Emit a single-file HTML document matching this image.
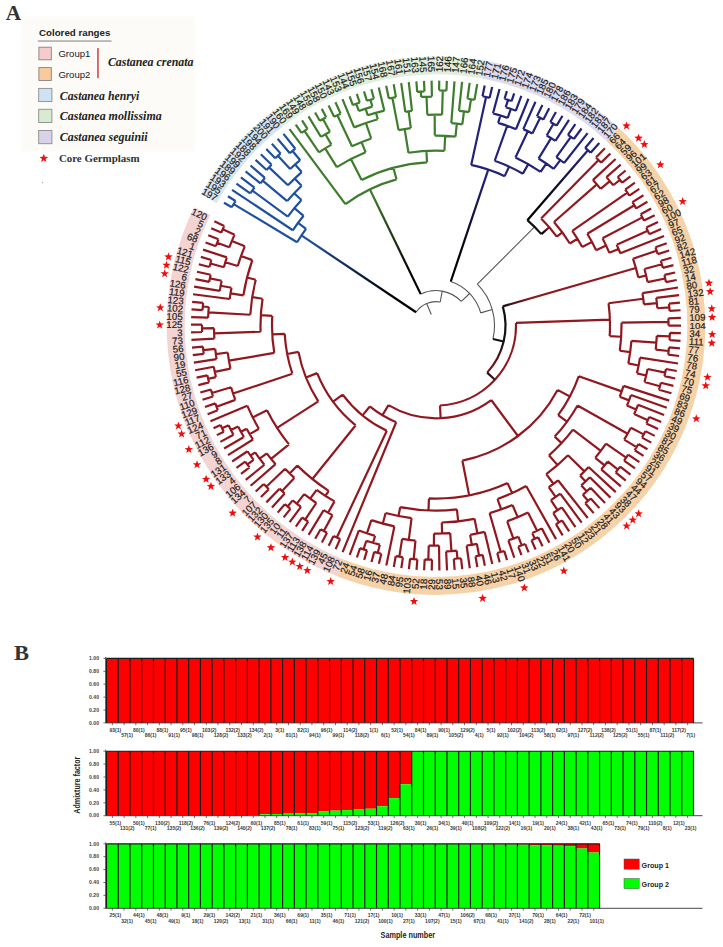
<!DOCTYPE html>
<html><head><meta charset="utf-8"><style>
body{margin:0;background:#fff;}
svg{display:block;}
.lab{font-family:"Liberation Sans",sans-serif;font-size:9.7px;fill:#1e1e1e;stroke:#1e1e1e;stroke-width:0.2px;}
.yl{font-family:"Liberation Sans",sans-serif;font-size:5.1px;font-weight:bold;fill:#444;}
.xl{font-family:"Liberation Sans",sans-serif;font-size:5px;font-weight:bold;fill:#3a3a3a;}
.sans{font-family:"Liberation Sans",sans-serif;}
.serif{font-family:"Liberation Serif",serif;}
</style></head>
<body>
<svg width="723" height="947" viewBox="0 0 723 947">
<defs><linearGradient id="g1" gradientUnits="userSpaceOnUse" x1="416.06" y1="312.24" x2="301.41" y2="235.43"><stop offset="0.2" stop-color="#000"/><stop offset="0.95" stop-color="#1f50a0"/></linearGradient><linearGradient id="g2" gradientUnits="userSpaceOnUse" x1="420.71" y1="294.12" x2="369.8" y2="189.33"><stop offset="0.2" stop-color="#000"/><stop offset="0.95" stop-color="#3d7d2c"/></linearGradient><linearGradient id="g3" gradientUnits="userSpaceOnUse" x1="450.77" y1="281.51" x2="488.25" y2="169.62"><stop offset="0.2" stop-color="#000"/><stop offset="0.95" stop-color="#23237a"/></linearGradient><linearGradient id="g4" gradientUnits="userSpaceOnUse" x1="527.35" y1="220.17" x2="587.93" y2="150.27"><stop offset="0.2" stop-color="#000"/><stop offset="0.95" stop-color="#23237a"/></linearGradient><linearGradient id="g5" gradientUnits="userSpaceOnUse" x1="541.34" y1="234.15" x2="549.27" y2="227.26"><stop offset="0.2" stop-color="#000"/><stop offset="0.95" stop-color="#921820"/></linearGradient><linearGradient id="g6" gradientUnits="userSpaceOnUse" x1="502.78" y1="306.35" x2="487.17" y2="372.63"><stop offset="0.45" stop-color="#111"/><stop offset="1.0" stop-color="#8a1419"/></linearGradient><linearGradient id="g7" gradientUnits="userSpaceOnUse" x1="502.78" y1="306.35" x2="531.61" y2="298.04"><stop offset="0.0" stop-color="#151515"/><stop offset="1.0" stop-color="#921820"/></linearGradient><linearGradient id="g8" gradientUnits="userSpaceOnUse" x1="487.17" y1="372.63" x2="509.26" y2="392.93"><stop offset="0.0" stop-color="#151515"/><stop offset="1.0" stop-color="#921820"/></linearGradient></defs>
<rect width="723" height="947" fill="#fff"/>

<rect x="21.5" y="16.5" width="173.5" height="135" fill="#fcfbf8"/>
<text x="5.8" y="20.4" class="serif" font-weight="bold" font-size="22" fill="#333" textLength="15.4" lengthAdjust="spacingAndGlyphs">A</text>
<text x="39" y="35.7" class="sans" font-weight="bold" font-size="9.8" fill="#222" textLength="71.4" lengthAdjust="spacingAndGlyphs">Colored ranges</text>
<rect x="37.8" y="40.4" width="73.7" height="1.3" fill="#9a9a9a"/>
<rect x="38.9" y="47.2" width="12.4" height="12.6" fill="#f4cccc" stroke="#8c7f7f" stroke-width="0.9"/>
<rect x="38.9" y="67.6" width="12.4" height="12.9" fill="#f9cb9c" stroke="#8c7f7f" stroke-width="0.9"/>
<rect x="38.7" y="88.4" width="13.2" height="13.2" fill="#cfe2f3" stroke="#8c8c8c" stroke-width="0.9"/>
<rect x="38.7" y="109.3" width="13.2" height="13.2" fill="#d9ead3" stroke="#8c8c8c" stroke-width="0.9"/>
<rect x="38.7" y="130.5" width="13.2" height="13.2" fill="#d9d2e9" stroke="#8c8c8c" stroke-width="0.9"/>
<text x="58.4" y="57.4" class="sans" font-size="9.6" fill="#222" textLength="32" lengthAdjust="spacingAndGlyphs">Group1</text>
<text x="58.4" y="78.1" class="sans" font-size="9.6" fill="#222" textLength="32" lengthAdjust="spacingAndGlyphs">Group2</text>
<rect x="97.2" y="48.1" width="1.5" height="30" fill="#d83a40"/>
<text x="107.9" y="66.4" class="serif" font-style="italic" font-weight="bold" font-size="12.3" fill="#222" textLength="85.6" lengthAdjust="spacingAndGlyphs">Castanea crenata</text>
<text x="59.8" y="99.6" class="serif" font-style="italic" font-weight="bold" font-size="12.3" fill="#222" textLength="79.6" lengthAdjust="spacingAndGlyphs">Castanea henryi</text>
<text x="59.8" y="120.3" class="serif" font-style="italic" font-weight="bold" font-size="12.3" fill="#222" textLength="101.9" lengthAdjust="spacingAndGlyphs">Castanea mollissima</text>
<text x="59.8" y="141.2" class="serif" font-style="italic" font-weight="bold" font-size="12.3" fill="#222" textLength="87.9" lengthAdjust="spacingAndGlyphs">Castanea seguinii</text>
<path d="M43.8 153.8L44.91 156.77L48.08 156.91L45.6 158.88L46.45 161.94L43.8 160.19L41.15 161.94L42 158.88L39.52 156.91L42.69 156.77Z" fill="#ee1111"/>
<text x="58.9" y="162" class="serif" font-weight="bold" font-size="10.9" fill="#333" textLength="80.7" lengthAdjust="spacingAndGlyphs">Core Germplasm</text>
<circle cx="42.5" cy="182.6" r="0.6" fill="#999"/>

<g><path d="M194.15 207.16A269.3 269.3 0 0 0 337.24 576.14L343.84 559.39A251.3 251.3 0 0 1 210.31 215.07Z" fill="#f4d3d3"/><path d="M337.24 576.14A269.3 269.3 0 0 0 618.61 127.67L606.4 140.9A251.3 251.3 0 0 1 343.84 559.39Z" fill="#f6d2a9"/><path d="M618.61 127.67A269.3 269.3 0 0 0 485.41 60.87L482.11 78.57A251.3 251.3 0 0 1 606.4 140.9Z" fill="#dcdbef"/><path d="M485.41 60.87A269.3 269.3 0 0 0 271.65 112.26L282.64 126.52A251.3 251.3 0 0 1 482.11 78.57Z" fill="#e1eedb"/><path d="M271.65 112.26A269.3 269.3 0 0 0 200.9 194.25L216.62 203.03A251.3 251.3 0 0 1 282.64 126.52Z" fill="#d6e5f2"/></g>
<g><path d="M440.25 301.98A24 24 0 0 0 416.06 312.24M440.25 301.98L442.2 291.15M461.31 301.43A35 35 0 0 0 420.71 294.12M461.31 301.43L469.63 293.48M480.72 312.87A46.5 46.5 0 0 0 450.77 281.51M480.72 312.87L492.27 309.59M492.94 339.01A58.5 58.5 0 0 0 477.35 284.21M477.35 284.21L534.59 226.91M431.31 314.55L426.63 303.51" fill="none" stroke="#555" stroke-width="1.1"/>
<path d="M306.05 228.86A162 162 0 0 0 297.11 242.22M297.11 242.22L233.66 204.13M235.58 201A236 236 0 0 0 231.79 207.3M235.58 201L227.93 196.25M231.79 207.3L224 202.79M306.05 228.86L298.03 222.89M303.62 215.79A172 172 0 0 0 292.83 230.28M292.83 230.28L232.06 189.83M303.62 215.79L294.38 208.13M301.48 200.06A184 184 0 0 0 287.77 216.59M287.77 216.59L252.32 190.52M254.45 187.68A228 228 0 0 0 250.24 193.4M254.45 187.68L240.91 177.4M250.24 193.4L236.39 183.54M301.48 200.06L294.17 193.24M301.59 185.71A194 194 0 0 0 287.17 201.16M287.17 201.16L262.62 180.63M264.9 177.95A226 226 0 0 0 260.38 183.35M264.9 177.95L250.51 165.54M260.38 183.35L245.62 171.39M301.59 185.71L294.66 178.5M301.69 172.06A204 204 0 0 0 287.95 185.26M287.95 185.26L269.08 167.37M271.56 164.79A230 230 0 0 0 266.63 169.99M271.56 164.79L260.84 154.3M266.63 169.99L255.59 159.84M301.69 172.06L295.1 164.53M300.19 160.22A214 214 0 0 0 290.15 169M290.15 169L277.89 155.82M280.55 153.38A232 232 0 0 0 275.26 158.31M280.55 153.38L271.84 143.73M275.26 158.31L266.26 148.93M300.19 160.22L292.57 150.95M295.31 148.73A226 226 0 0 0 289.87 153.2M295.31 148.73L283.48 133.86M289.87 153.2L277.58 138.71" fill="none" stroke="#1f50a0" stroke-width="2.2"/>
<path d="M396.51 179.34A151.5 151.5 0 0 0 345.42 204.16M345.42 204.16L289.52 129.21M396.51 179.34L393.39 167.75M427.03 162.35A163.5 163.5 0 0 0 361.6 180.01M361.6 180.01L350.9 159.08M365.63 152.35A187 187 0 0 0 336.81 167.07M336.81 167.07L325.15 148.42M331.42 144.65A209 209 0 0 0 319.01 152.41M331.42 144.65L325.42 134.26M329.92 131.73A221 221 0 0 0 320.98 136.89M329.92 131.73L322.98 119.04M326.21 117.31A235.46 235.46 0 0 0 319.77 120.83M326.21 117.31L321.76 108.87M319.77 120.83L315.06 112.53M320.98 136.89L308.49 116.4M319.01 152.41L304.45 130.87M307.5 128.84A235 235 0 0 0 301.44 132.94M307.5 128.84L302.03 120.47M301.44 132.94L295.71 124.74M365.63 152.35L361.49 142.16M371.23 138.49A198 198 0 0 0 351.95 146.32M371.23 138.49L365.85 122.95M377.79 119.2A214.45 214.45 0 0 0 354.14 127.39M377.79 119.2L375.99 112.82M384.32 110.64A221.08 221.08 0 0 0 367.76 115.31M384.32 110.64L378.73 87.39M367.76 115.31L365.62 108.72M372.41 106.64A228.01 228.01 0 0 0 358.9 111.02M372.41 106.64L370.41 99.76M373.93 98.76A235.18 235.18 0 0 0 366.9 100.81M373.93 98.76L371.34 89.29M366.9 100.81L364.01 91.42M358.9 111.02L356.3 103.78M359.76 102.57A235.7 235.7 0 0 0 352.85 105.05M359.76 102.57L356.75 93.77M352.85 105.05L349.57 96.35M354.14 127.39L342.48 99.15M351.95 146.32L337.37 115.22M340.66 113.71A232.35 232.35 0 0 0 334.11 116.78M340.66 113.71L335.47 102.18M334.11 116.78L328.56 105.41M427.03 162.35L426.4 150.86M444.44 150.8A175 175 0 0 0 408.45 152.78M408.45 152.78L404.67 129.08M410.81 128.2A199 199 0 0 0 398.57 130.15M398.57 130.15L392.36 97.74M395.92 97.09A232 232 0 0 0 388.82 98.45M395.92 97.09L393.67 84.28M388.82 98.45L386.17 85.72M410.81 128.2L408.66 111.34M412 110.94A216 216 0 0 0 405.32 111.79M405.32 111.79L401.2 83.08M412 110.94L408.77 82.12M444.44 150.8L445.17 135.82M455.49 136.6A190 190 0 0 0 434.81 135.6M455.49 136.6L456.82 123.67M462.32 124.31A203 203 0 0 0 451.31 123.18M451.31 123.18L454.48 81.3M462.32 124.31L464 111.42M469 112.14A216 216 0 0 0 458.99 110.83M458.99 110.83L462.08 81.99M469 112.14L470.99 99.29M474.51 99.86A229 229 0 0 0 467.46 98.77M467.46 98.77L469.65 82.92M474.51 99.86L477.2 84.09M434.81 135.6L434.68 114.6M442.07 114.69A211 211 0 0 0 427.29 114.78M442.07 114.69L442.77 90.46M446.43 90.59A235.24 235.24 0 0 0 439.11 90.38M446.43 90.59L446.87 80.84M439.11 90.38L439.24 80.62M427.29 114.78L426.54 96.69M431.89 96.53A229.11 229.11 0 0 0 421.2 96.97M431.89 96.53L431.61 80.64M421.2 96.97L420.85 91.56M424.5 91.36A234.53 234.53 0 0 0 417.21 91.83M424.5 91.36L423.98 80.89M417.21 91.83L416.37 81.39" fill="none" stroke="#3d7d2c" stroke-width="2.2"/>
<path d="M504.69 176.13A164.5 164.5 0 0 0 471.2 164.91M471.2 164.91L486.08 97.02M489.63 97.83A234 234 0 0 0 482.51 96.27M489.63 97.83L492.15 87.12M482.51 96.27L484.7 85.49M504.69 176.13L509.07 166.59M522.85 173.67A175 175 0 0 0 494.72 160.75M494.72 160.75L507.14 125.89M516 129.28A212 212 0 0 0 498.13 122.91M516 129.28L528.46 98.72M498.13 122.91L500.41 115.48M507.73 117.86A219.77 219.77 0 0 0 493.01 113.35M507.73 117.86L510.83 108.88M515.87 110.69A229.27 229.27 0 0 0 505.74 107.2M515.87 110.69L521.35 95.95M505.74 107.2L508.08 99.9M511.58 101.05A236.93 236.93 0 0 0 504.55 98.8M511.58 101.05L514.16 93.4M504.55 98.8L506.89 91.08M493.01 113.35L499.55 88.99M522.85 173.67L528.31 164.12M540.59 171.79A186 186 0 0 0 515.47 157.43M515.47 157.43L527.86 131.21M532.38 133.41A215 215 0 0 0 523.3 129.12M532.38 133.41L540.17 117.86M543.4 119.51A232.39 232.39 0 0 0 536.93 116.27M543.4 119.51L549.22 108.33M536.93 116.27L542.4 104.91M523.3 129.12L535.48 101.7M540.59 171.79L546.22 163.52M553.66 168.85A196 196 0 0 0 538.53 158.55M538.53 158.55L551.08 138.1M555.43 140.84A220 220 0 0 0 546.67 135.46M555.43 140.84L569 119.84M546.67 135.46L553.48 123.77M556.6 125.62A233.53 233.53 0 0 0 550.32 121.97M556.6 125.62L562.53 115.8M550.32 121.97L555.93 111.96M553.66 168.85L560.27 160.05M564.1 163A207 207 0 0 0 556.37 157.19M556.37 157.19L570.91 136.86M573.83 138.98A232 232 0 0 0 567.95 134.78M573.83 138.98L581.55 128.52M567.95 134.78L575.34 124.08M564.1 163L587.62 133.15M590.64 152.65A232 232 0 0 0 585.18 147.92M590.64 152.65L599.3 142.96M585.18 147.92L593.54 137.96" fill="none" stroke="#23237a" stroke-width="2.2"/>
<path d="M541.34 234.15A139.5 139.5 0 0 0 527.35 220.17" fill="none" stroke="#111" stroke-width="2.2"/>
<path d="M556.73 236.58A150 150 0 0 0 541.09 218.57M541.09 218.57L598.55 160.06M601.1 162.61A232 232 0 0 0 595.95 157.55M601.1 162.61L610.36 153.48M595.95 157.55L604.91 148.14M556.73 236.58L562.36 232.42M569.83 243.51A157 157 0 0 0 553.98 222.01M553.98 222.01L596.81 184.4M600.6 188.84A214 214 0 0 0 592.9 180.07M600.6 188.84L609.85 181.15M613.18 185.25A226.03 226.03 0 0 0 606.43 177.13M613.18 185.25L619.98 179.86M622.23 182.74A234.71 234.71 0 0 0 617.69 177.01M622.23 182.74L630.39 176.48M617.69 177.01L625.65 170.5M606.43 177.13L620.73 164.67M592.9 180.07L615.63 158.99M569.83 243.51L577.5 238.8M582.25 247.07A166 166 0 0 0 572.29 230.83M572.29 230.83L627.29 192.57M629.34 195.57A233 233 0 0 0 625.2 189.61M629.34 195.57L639.3 188.87M625.2 189.61L634.94 182.61M582.25 247.07L591.94 241.86M596.12 250.17A177 177 0 0 0 587.33 233.79M587.33 233.79L634.35 205.26M636.2 208.36A232 232 0 0 0 632.45 202.18M636.2 208.36L647.42 201.79M632.45 202.18L643.46 195.27M596.12 250.17L606.07 245.48M609.35 252.84A188 188 0 0 0 602.49 238.28M602.49 238.28L642.34 217.37M644 220.6A233 233 0 0 0 640.63 214.17M644 220.6L654.71 215.19M640.63 214.17L651.17 208.44M609.35 252.84L618.57 248.97M620.31 253.25A198 198 0 0 0 616.73 244.72M616.73 244.72L647.76 230.84M649.21 234.15A232 232 0 0 0 646.26 227.55M649.21 234.15L661.16 229.02M646.26 227.55L658.04 222.06M620.31 253.25L664.06 236.08M638.34 277.39A208 208 0 0 0 632.96 258.72M632.96 258.72L656.63 250.69M657.77 254.13A233 233 0 0 0 655.44 247.26M657.77 254.13L669.19 250.45M655.44 247.26L666.74 243.23M638.34 277.39L646.12 275.54M647.58 282.11A216 216 0 0 0 644.46 269.02M644.46 269.02L661.83 264.3M662.76 267.83A234 234 0 0 0 660.85 260.79M662.76 267.83L673.42 265.11M660.85 260.79L671.42 257.75M647.58 282.11L665.21 278.48M665.91 282.06A234 234 0 0 0 664.45 274.92M665.91 282.06L676.72 280.01M664.45 274.92L675.18 272.53M440 405.5A80 80 0 0 0 515.95 322.85M515.95 322.85L609.9 319.62M609.69 336.04A174 174 0 0 0 608.56 303.25M608.56 303.25L643.27 298.76M643.92 304.42A209 209 0 0 0 642.46 293.12M642.46 293.12L678.02 287.53M643.92 304.42L656.86 303.1M657.32 308.26A222 222 0 0 0 656.27 297.95M656.27 297.95L679.09 295.08M657.32 308.26L669.29 307.33M669.54 310.96A234 234 0 0 0 668.97 303.7M669.54 310.96L680.52 310.27M668.97 303.7L679.92 302.67M609.69 336.04L621.17 336.73M619.79 350.74A185.5 185.5 0 0 0 621.48 322.65M621.48 322.65L668.47 321.91M668.5 325.53A232.5 232.5 0 0 0 668.39 318.29M668.5 325.53L681 325.53M668.39 318.29L680.88 317.9M619.79 350.74L630.19 352.17M628.31 363.45A196 196 0 0 0 631.41 340.79M631.41 340.79L656.34 342.72M655.7 349.58A221 221 0 0 0 656.76 335.85M656.76 335.85L669.75 336.46M669.55 340.1A234 234 0 0 0 669.89 332.82M669.55 340.1L680.53 340.78M669.89 332.82L680.88 333.15M655.7 349.58L668.62 350.99M668.2 354.61A234 234 0 0 0 668.99 347.36M668.2 354.61L679.11 355.97M668.99 347.36L679.94 348.38M628.31 363.45L638.61 365.48M636.91 373.34A206.5 206.5 0 0 0 640.01 357.57M640.01 357.57L678.05 363.53M636.91 373.34L646.15 375.53M644.49 382.05A216 216 0 0 0 647.6 368.97M647.6 368.97L665.24 372.58M664.48 376.14A234 234 0 0 0 665.94 369M664.48 376.14L675.22 378.52M665.94 369L676.75 371.04M644.49 382.05L659.94 386.24M658.96 389.72A232 232 0 0 0 660.85 382.74M658.96 389.72L671.46 393.31M660.85 382.74L673.45 385.94M440 405.5L440.63 418.18M388.45 405.18A92.7 92.7 0 0 0 491.25 400.03M388.45 405.18L382.4 415.31M369.8 406.46A104.5 104.5 0 0 0 396.17 422.21M369.8 406.46L362.51 415.35M342.71 394.54A116 116 0 0 0 386.82 430.66M342.71 394.54L333.06 401.68M317.15 373.11A128 128 0 0 0 355.7 425.28M317.15 373.11L306 377.57M298.48 351.86A140 140 0 0 0 318.28 401.37M298.48 351.86L287.19 354.02M284.72 333.8A151.5 151.5 0 0 0 292.35 373.72M284.72 333.8L272.24 334.47M272.29 315.89A164 164 0 0 0 274.3 352.94M272.29 315.89L260.81 315.21M262.57 298.74A175.5 175.5 0 0 0 260.61 331.77M262.57 298.74L252.19 297.13M255.74 279.75A186 186 0 0 0 250.32 314.76M255.74 279.75L247.02 277.53M252.33 260.11A195 195 0 0 0 243.36 295.38M252.33 260.11L241.02 256.08M244.79 246.31A207 207 0 0 0 237.76 266.03M244.79 246.31L231.86 240.94M234.59 234.63A221 221 0 0 0 229.32 247.34M234.59 234.63L222.74 229.28M224.27 225.97A234 234 0 0 0 221.27 232.61M224.27 225.97L214.32 221.28M221.27 232.61L211.18 228.24M229.32 247.34L217.16 242.74M218.48 239.34A234 234 0 0 0 215.9 246.16M218.48 239.34L208.25 235.29M215.9 246.16L205.55 242.42M237.76 266.03L225.31 262.29M226.84 257.39A220 220 0 0 0 223.88 267.23M226.84 257.39L203.07 249.64M223.88 267.23L210.39 263.52M211.38 260.01A234 234 0 0 0 209.45 267.04M211.38 260.01L200.82 256.93M209.45 267.04L198.8 264.29M243.36 295.38L230.51 293.36M231.47 287.77A208 208 0 0 0 229.71 298.97M231.47 287.77L220.65 285.77M221.64 280.75A219 219 0 0 0 219.78 290.81M221.64 280.75L209.9 278.3M210.66 274.78A231 231 0 0 0 209.19 281.82M210.66 274.78L197 271.7M209.19 281.82L195.44 279.17M219.78 290.81L194.11 286.68M229.71 298.97L193.02 294.24M250.32 314.76L208.39 312.32M208.76 307A228 228 0 0 0 208.14 317.64M208.76 307L202.78 306.51M203.11 302.89A234 234 0 0 0 202.51 310.15M203.11 302.89L192.16 301.82M202.51 310.15L191.53 309.42M208.14 317.64L191.15 317.04M260.61 331.77L214.14 333.4M214.02 328.22A222 222 0 0 0 214.38 338.58M214.02 328.22L202.02 328.36M202 324.71A234 234 0 0 0 202.09 332M202 324.71L191 324.67M202.09 332L191.09 332.3M214.38 338.58L191.42 339.93M274.3 352.94L228.94 360.61M227.73 352.53A210 210 0 0 0 230.46 368.65M227.73 352.53L215.83 354.07M215.23 348.92A222 222 0 0 0 216.56 359.2M215.23 348.92L203.29 350.18M202.94 346.55A234 234 0 0 0 203.71 353.8M202.94 346.55L191.98 347.53M203.71 353.8L192.79 355.12M216.56 359.2L193.82 362.68M230.46 368.65L214.8 371.93M213.78 366.75A226 226 0 0 0 215.94 377.08M213.78 366.75L195.09 370.21M215.94 377.08L208.15 378.9M207.35 375.35A234 234 0 0 0 209.01 382.44M207.35 375.35L196.6 377.69M209.01 382.44L198.34 385.12M292.35 373.72L233.08 393.57M231.06 387.22A214 214 0 0 0 235.3 399.86M231.06 387.22L211.91 392.98M210.89 389.48A234 234 0 0 0 212.99 396.46M210.89 389.48L200.31 392.49M212.99 396.46L202.5 399.79M235.3 399.86L216.54 406.8M215.3 403.37A234 234 0 0 0 217.83 410.21M215.3 403.37L204.93 407.03M217.83 410.21L207.58 414.19M318.28 401.37L277.08 427.9M267.01 410.24A189 189 0 0 0 288.98 444.36M267.01 410.24L252.71 417.41M247.27 405.64A205 205 0 0 0 258.88 428.82M247.27 405.64L210.45 421.26M258.88 428.82L249.73 434.15M246.64 428.66A215.59 215.59 0 0 0 252.98 439.54M246.64 428.66L240.93 431.77M238.11 426.41A222.09 222.09 0 0 0 243.9 437.05M238.11 426.41L230.95 430.06M228.57 425.24A230.12 230.12 0 0 0 233.45 434.82M228.57 425.24L222.14 428.33M220.57 424.99A237.26 237.26 0 0 0 223.76 431.65M220.57 424.99L213.53 428.23M223.76 431.65L216.84 435.11M233.45 434.82L220.35 441.88M243.9 437.05L224.08 448.54M252.98 439.54L228.01 455.08M288.98 444.36L271.08 458.82M266.77 453.29A212 212 0 0 0 275.58 464.2M266.77 453.29L259.63 458.67M255.08 452.41A220.94 220.94 0 0 0 264.4 464.77M255.08 452.41L250.49 455.62M247.51 451.25A226.53 226.53 0 0 0 253.58 459.92M247.51 451.25L232.14 461.5M253.58 459.92L247.34 464.51M245.2 461.56A234.28 234.28 0 0 0 249.53 467.43M245.2 461.56L236.47 467.78M249.53 467.43L241 473.92M264.4 464.77L245.71 479.92M275.58 464.2L250.61 485.77M355.7 425.28L312.41 479.01M297.4 465.6A197 197 0 0 0 328.7 490.82M297.4 465.6L289.66 473.42M285.13 468.79A208 208 0 0 0 294.34 477.9M285.13 468.79L266.27 486.68M263.78 484.02A234 234 0 0 0 268.8 489.31M263.78 484.02L255.69 491.47M268.8 489.31L260.94 497M294.34 477.9L282.08 491.08M279.52 488.66A226 226 0 0 0 284.67 493.46M279.52 488.66L266.36 502.37M284.67 493.46L271.95 507.57M328.7 490.82L325.43 495.85M316.64 489.8A203 203 0 0 0 334.53 501.42M316.64 489.8L310.18 498.7M304.19 494.19A214 214 0 0 0 316.32 503M304.19 494.19L296.8 503.64M292.68 500.34A226 226 0 0 0 300.99 506.84M292.68 500.34L287.6 506.53M284.8 504.19A234 234 0 0 0 290.44 508.82M284.8 504.19L277.7 512.59M290.44 508.82L283.6 517.43M300.99 506.84L289.64 522.08M316.32 503L305.13 519.58M302.13 517.52A234 234 0 0 0 308.17 521.6M302.13 517.52L295.83 526.54M308.17 521.6L302.16 530.81M334.53 501.42L328.03 512.68M323.69 510.11A216 216 0 0 0 332.43 515.15M323.69 510.11L308.61 534.88M332.43 515.15L323.8 530.95M320.62 529.17A234 234 0 0 0 327.01 532.67M320.62 529.17L315.19 538.74M327.01 532.67L321.89 542.4M386.82 430.66L336.8 537.53M333.51 535.96A234 234 0 0 0 340.11 539.05M333.51 535.96L328.7 545.85M340.11 539.05L335.61 549.09M396.17 422.21L342.61 552.1M491.25 400.03L517.96 436.01M462.36 460.55A137.5 137.5 0 0 0 557.54 389.9M462.36 460.55L469.17 495.39M428.97 498.46A173 173 0 0 0 507.57 483.1M428.97 498.46L428.48 510.45M400.25 507.11A185 185 0 0 0 456.88 509.42M400.25 507.11L398.51 515.94M385.64 512.95A194 194 0 0 0 411.56 518.05M385.64 512.95L382.79 523.57M371.32 520.13A205 205 0 0 0 394.43 526.34M371.32 520.13L366.94 533.31M358.91 530.47A218.89 218.89 0 0 0 375.08 535.84M358.91 530.47L349.71 554.9M375.08 535.84L373.06 542.81M366.33 540.74A226.14 226.14 0 0 0 379.85 544.66M366.33 540.74L363.55 549.31M360.08 548.15A235.15 235.15 0 0 0 367.04 550.41M360.08 548.15L356.9 557.48M367.04 550.41L364.15 559.83M379.85 544.66L377.76 552.83M374.23 551.9A234.58 234.58 0 0 0 381.31 553.71M374.23 551.9L371.48 561.95M381.31 553.71L378.87 563.85M394.43 526.34L386.32 565.51M411.56 518.05L408.79 539.88M402.13 538.93A216 216 0 0 0 415.47 540.62M402.13 538.93L399.29 556.8M395.69 556.2A234.1 234.1 0 0 0 402.89 557.34M395.69 556.2L393.82 566.94M402.89 557.34L401.35 568.14M415.47 540.62L413.71 559.1M410.08 558.73A234.56 234.56 0 0 0 417.35 559.42M410.08 558.73L408.92 569.1M417.35 559.42L416.52 569.82M456.88 509.42L458.23 521.34M441.79 522.51A197 197 0 0 0 474.52 518.8M441.79 522.51L442.12 533.51M434.02 533.59A208 208 0 0 0 450.2 533.11M434.02 533.59L433.9 545.59M428.77 545.48A220 220 0 0 0 439.04 545.58M428.77 545.48L428.31 559.47M424.67 559.33A234 234 0 0 0 431.95 559.56M424.67 559.33L424.13 570.31M431.95 559.56L431.76 570.56M439.04 545.58L439.39 570.58M450.2 533.11L451.43 551.07M446.16 551.37A226 226 0 0 0 456.69 550.65M446.16 551.37L447.02 570.35M456.69 550.65L457.43 558.62M453.8 558.92A234 234 0 0 0 461.05 558.26M453.8 558.92L454.63 569.89M461.05 558.26L462.23 569.19M474.52 518.8L477.46 533.51M470.15 534.83A212 212 0 0 0 484.71 531.93M470.15 534.83L471.76 544.7M466.63 545.48A222 222 0 0 0 476.86 543.81M466.63 545.48L469.8 568.26M476.86 543.81L479.07 555.6M475.49 556.24A234 234 0 0 0 482.65 554.9M475.49 556.24L477.34 567.09M482.65 554.9L484.84 565.68M484.71 531.93L492.3 564.04M507.57 483.1L512.12 493.12M497.51 499.01A184 184 0 0 0 526.17 485.99M497.51 499.01L501.19 509.38M489.62 513.08A195 195 0 0 0 512.5 504.97M489.62 513.08L500.74 551.96M497.21 552.94A235.44 235.44 0 0 0 504.26 550.93M497.21 552.94L499.69 562.18M504.26 550.93L507.03 560.08M512.5 504.97L517.7 517.16M507.15 521.33A208.26 208.26 0 0 0 528.02 512.43M507.15 521.33L513.42 538.58M508.42 540.33A226.61 226.61 0 0 0 518.37 536.71M508.42 540.33L514.3 557.75M518.37 536.71L521.72 545.3M518.29 546.61A235.83 235.83 0 0 0 525.13 543.94M518.29 546.61L521.49 555.2M525.13 543.94L528.6 552.43M528.02 512.43L537.06 530.79M532.24 533.1A228.73 228.73 0 0 0 541.83 528.38M532.24 533.1L534.85 538.72M531.52 540.23A234.92 234.92 0 0 0 538.16 537.15M531.52 540.23L535.62 549.43M538.16 537.15L542.54 546.22M541.83 528.38L549.36 542.8M526.17 485.99L556.06 539.16M557.54 389.9L569.92 396.44M558.16 415.2A151.5 151.5 0 0 0 578.81 376.17M578.81 376.17L621.7 391.36M619.7 396.75A197 197 0 0 0 623.54 385.91M623.54 385.91L669.24 400.61M619.7 396.75L629.03 400.37M626.92 405.6A207 207 0 0 0 630.99 395.08M630.99 395.08L666.79 407.83M626.92 405.6L636.14 409.46M634.13 414.12A217 217 0 0 0 638.04 404.77M638.04 404.77L664.11 414.98M634.13 414.12L647.82 420.23M646.32 423.52A232 232 0 0 0 649.27 416.92M646.32 423.52L658.11 429.01M649.27 416.92L661.22 422.04M558.16 415.2L567.03 421.71M554.67 436.61A162.5 162.5 0 0 0 577.53 405.44M577.53 405.44L627.62 433.69M624.16 439.6A220 220 0 0 0 630.89 427.67M624.16 439.6L636.59 447.14M634.67 450.24A234.54 234.54 0 0 0 638.46 444M634.67 450.24L643.54 455.81M638.46 444L647.49 449.28M630.89 427.67L643.7 434.38M641.98 437.6A234.46 234.46 0 0 0 645.37 431.13M641.98 437.6L651.24 442.63M645.37 431.13L654.78 435.87M554.67 436.61L561.61 443.1M548.97 455.3A172 172 0 0 0 572.94 429.67M572.94 429.67L600.81 450.85M595.29 457.79A207 207 0 0 0 606.02 443.68M606.02 443.68L626.14 457.65M624.06 460.6A231.5 231.5 0 0 0 628.17 454.68M624.06 460.6L635.03 468.47M628.17 454.68L639.38 462.2M595.29 457.79L604.53 465.45M601.22 469.35A219 219 0 0 0 607.75 461.48M607.75 461.48L617.94 469.55M615.68 472.36A232 232 0 0 0 620.16 466.69M615.68 472.36L625.75 480.58M620.16 466.69L630.48 474.6M601.22 469.35L620.83 486.42M548.97 455.3L557.51 465.1M546.29 474.13A185 185 0 0 0 567.99 455.23M567.99 455.23L584.4 471.35M580.08 475.62A208 208 0 0 0 588.59 466.95M588.59 466.95L615.73 492.1M580.08 475.62L585.62 481.39M581.32 485.41A216 216 0 0 0 589.81 477.25M589.81 477.25L610.46 497.61M581.32 485.41L586.7 491.32M582.79 494.8A224 224 0 0 0 590.53 487.76M590.53 487.76L605.02 502.96M582.79 494.8L588.03 500.84M585.29 503.19A232 232 0 0 0 590.74 498.45M585.29 503.19L593.65 513.14M590.74 498.45L599.42 508.14M546.29 474.13L553.44 483.77M548.77 487.13A197 197 0 0 0 558.01 480.27M558.01 480.27L587.74 517.96M548.77 487.13L555.64 496.97M550.93 500.16A209 209 0 0 0 560.27 493.64M560.27 493.64L581.67 522.59M550.93 500.16L557.53 510.19M553.18 512.98A221 221 0 0 0 561.8 507.3M561.8 507.3L575.47 527.03M553.18 512.98L559.01 522.3M555.94 524.19A232 232 0 0 0 562.06 520.36M555.94 524.19L562.66 535.32M562.06 520.36L569.13 531.28" fill="none" stroke="#921820" stroke-width="2.2"/>
<path d="M416.06 312.24L301.41 235.43" fill="none" stroke="url(#g1)" stroke-width="2.2"/>
<path d="M420.71 294.12L369.8 189.33" fill="none" stroke="url(#g2)" stroke-width="2.2"/>
<path d="M450.77 281.51L488.25 169.62" fill="none" stroke="url(#g3)" stroke-width="2.2"/>
<path d="M527.35 220.17L587.93 150.27" fill="none" stroke="url(#g4)" stroke-width="2.2"/>
<path d="M541.34 234.15L549.27 227.26" fill="none" stroke="url(#g5)" stroke-width="2.2"/>
<path d="M492.94 339.01L503.65 341.53" fill="none" stroke="#111" stroke-width="2.2"/>
<path d="M487.17 372.63A69.5 69.5 0 0 0 502.78 306.35" fill="none" stroke="url(#g6)" stroke-width="2.2"/>
<path d="M502.78 306.35L635.86 268" fill="none" stroke="url(#g7)" stroke-width="2.2"/>
<path d="M487.17 372.63L494.9 379.73" fill="none" stroke="url(#g8)" stroke-width="2.2"/></g>
<g class="lab"><text x="206.63" y="217.66" transform="rotate(25.2 206.63 217.66)" text-anchor="end" dy="0.36em">120</text>
<text x="203.38" y="224.86" transform="rotate(23.42 203.38 224.86)" text-anchor="end" dy="0.36em">5</text>
<text x="200.35" y="232.15" transform="rotate(21.63 200.35 232.15)" text-anchor="end" dy="0.36em">2</text>
<text x="197.56" y="239.54" transform="rotate(19.85 197.56 239.54)" text-anchor="end" dy="0.36em">68</text>
<text x="194.99" y="247" transform="rotate(18.06 194.99 247)" text-anchor="end" dy="0.36em">1</text>
<text x="192.66" y="254.55" transform="rotate(16.28 192.66 254.55)" text-anchor="end" dy="0.36em">121</text>
<text x="190.57" y="262.16" transform="rotate(14.49 190.57 262.16)" text-anchor="end" dy="0.36em">115</text>
<text x="188.71" y="269.83" transform="rotate(12.71 188.71 269.83)" text-anchor="end" dy="0.36em">122</text>
<text x="187.09" y="277.56" transform="rotate(10.92 187.09 277.56)" text-anchor="end" dy="0.36em">6</text>
<text x="185.72" y="285.33" transform="rotate(9.14 185.72 285.33)" text-anchor="end" dy="0.36em">126</text>
<text x="184.59" y="293.15" transform="rotate(7.35 184.59 293.15)" text-anchor="end" dy="0.36em">119</text>
<text x="183.7" y="300.99" transform="rotate(5.57 183.7 300.99)" text-anchor="end" dy="0.36em">123</text>
<text x="183.05" y="308.86" transform="rotate(3.79 183.05 308.86)" text-anchor="end" dy="0.36em">102</text>
<text x="182.65" y="316.75" transform="rotate(2 182.65 316.75)" text-anchor="end" dy="0.36em">105</text>
<text x="182.5" y="324.64" transform="rotate(0.22 182.5 324.64)" text-anchor="end" dy="0.36em">125</text>
<text x="182.59" y="332.53" transform="rotate(-1.57 182.59 332.53)" text-anchor="end" dy="0.36em">3</text>
<text x="182.93" y="340.42" transform="rotate(-3.35 182.93 340.42)" text-anchor="end" dy="0.36em">73</text>
<text x="183.52" y="348.3" transform="rotate(-5.14 183.52 348.3)" text-anchor="end" dy="0.36em">56</text>
<text x="184.35" y="356.15" transform="rotate(-6.92 184.35 356.15)" text-anchor="end" dy="0.36em">90</text>
<text x="185.42" y="363.97" transform="rotate(-8.71 185.42 363.97)" text-anchor="end" dy="0.36em">19</text>
<text x="186.74" y="371.75" transform="rotate(-10.49 186.74 371.75)" text-anchor="end" dy="0.36em">55</text>
<text x="188.29" y="379.49" transform="rotate(-12.27 188.29 379.49)" text-anchor="end" dy="0.36em">116</text>
<text x="190.09" y="387.18" transform="rotate(-14.06 190.09 387.18)" text-anchor="end" dy="0.36em">128</text>
<text x="192.13" y="394.81" transform="rotate(-15.84 192.13 394.81)" text-anchor="end" dy="0.36em">27</text>
<text x="194.4" y="402.37" transform="rotate(-17.63 194.4 402.37)" text-anchor="end" dy="0.36em">110</text>
<text x="196.91" y="409.86" transform="rotate(-19.41 196.91 409.86)" text-anchor="end" dy="0.36em">129</text>
<text x="199.65" y="417.26" transform="rotate(-21.2 199.65 417.26)" text-anchor="end" dy="0.36em">117</text>
<text x="202.62" y="424.57" transform="rotate(-22.98 202.62 424.57)" text-anchor="end" dy="0.36em">124</text>
<text x="205.82" y="431.79" transform="rotate(-24.77 205.82 431.79)" text-anchor="end" dy="0.36em">71</text>
<text x="209.23" y="438.91" transform="rotate(-26.55 209.23 438.91)" text-anchor="end" dy="0.36em">112</text>
<text x="212.87" y="445.92" transform="rotate(-28.34 212.87 445.92)" text-anchor="end" dy="0.36em">136</text>
<text x="216.73" y="452.81" transform="rotate(-30.12 216.73 452.81)" text-anchor="end" dy="0.36em">9</text>
<text x="220.8" y="459.57" transform="rotate(-31.9 220.8 459.57)" text-anchor="end" dy="0.36em">8</text>
<text x="225.07" y="466.21" transform="rotate(-33.69 225.07 466.21)" text-anchor="end" dy="0.36em">131</text>
<text x="229.55" y="472.71" transform="rotate(-35.47 229.55 472.71)" text-anchor="end" dy="0.36em">133</text>
<text x="234.23" y="479.07" transform="rotate(-37.26 234.23 479.07)" text-anchor="end" dy="0.36em">4</text>
<text x="239.11" y="485.28" transform="rotate(-39.04 239.11 485.28)" text-anchor="end" dy="0.36em">106</text>
<text x="244.18" y="491.33" transform="rotate(-40.83 244.18 491.33)" text-anchor="end" dy="0.36em">134</text>
<text x="249.43" y="497.22" transform="rotate(-42.61 249.43 497.22)" text-anchor="end" dy="0.36em">7</text>
<text x="254.87" y="502.95" transform="rotate(-44.4 254.87 502.95)" text-anchor="end" dy="0.36em">107</text>
<text x="260.48" y="508.5" transform="rotate(-46.18 260.48 508.5)" text-anchor="end" dy="0.36em">132</text>
<text x="266.26" y="513.88" transform="rotate(-47.96 266.26 513.88)" text-anchor="end" dy="0.36em">130</text>
<text x="272.2" y="519.08" transform="rotate(-49.75 272.2 519.08)" text-anchor="end" dy="0.36em">135</text>
<text x="278.31" y="524.08" transform="rotate(-51.53 278.31 524.08)" text-anchor="end" dy="0.36em">10</text>
<text x="284.57" y="528.9" transform="rotate(-53.32 284.57 528.9)" text-anchor="end" dy="0.36em">11</text>
<text x="290.97" y="533.51" transform="rotate(-55.1 290.97 533.51)" text-anchor="end" dy="0.36em">137</text>
<text x="297.51" y="537.93" transform="rotate(-56.89 297.51 537.93)" text-anchor="end" dy="0.36em">113</text>
<text x="304.19" y="542.14" transform="rotate(-58.67 304.19 542.14)" text-anchor="end" dy="0.36em">138</text>
<text x="311" y="546.14" transform="rotate(-60.46 311 546.14)" text-anchor="end" dy="0.36em">114</text>
<text x="317.93" y="549.92" transform="rotate(-62.24 317.93 549.92)" text-anchor="end" dy="0.36em">139</text>
<text x="324.97" y="553.49" transform="rotate(-64.03 324.97 553.49)" text-anchor="end" dy="0.36em">45</text>
<text x="332.12" y="556.84" transform="rotate(-65.81 332.12 556.84)" text-anchor="end" dy="0.36em">108</text>
<text x="339.37" y="559.96" transform="rotate(-67.59 339.37 559.96)" text-anchor="end" dy="0.36em">72</text>
<text x="346.72" y="562.86" transform="rotate(-69.38 346.72 562.86)" text-anchor="end" dy="0.36em">24</text>
<text x="354.15" y="565.52" transform="rotate(-71.16 354.15 565.52)" text-anchor="end" dy="0.36em">54</text>
<text x="361.66" y="567.96" transform="rotate(-72.95 361.66 567.96)" text-anchor="end" dy="0.36em">58</text>
<text x="369.24" y="570.15" transform="rotate(-74.73 369.24 570.15)" text-anchor="end" dy="0.36em">16</text>
<text x="376.89" y="572.11" transform="rotate(-76.52 376.89 572.11)" text-anchor="end" dy="0.36em">37</text>
<text x="384.6" y="573.83" transform="rotate(-78.3 384.6 573.83)" text-anchor="end" dy="0.36em">48</text>
<text x="392.35" y="575.31" transform="rotate(-80.09 392.35 575.31)" text-anchor="end" dy="0.36em">84</text>
<text x="400.15" y="576.55" transform="rotate(-81.87 400.15 576.55)" text-anchor="end" dy="0.36em">95</text>
<text x="407.98" y="577.55" transform="rotate(-83.65 407.98 577.55)" text-anchor="end" dy="0.36em">103</text>
<text x="415.84" y="578.3" transform="rotate(-85.44 415.84 578.3)" text-anchor="end" dy="0.36em">52</text>
<text x="423.72" y="578.8" transform="rotate(-87.22 423.72 578.8)" text-anchor="end" dy="0.36em">18</text>
<text x="431.61" y="579.06" transform="rotate(-89.01 431.61 579.06)" text-anchor="end" dy="0.36em">29</text>
<text x="439.51" y="579.08" transform="rotate(-270.79 439.51 579.08)" text-anchor="start" dy="0.36em">53</text>
<text x="447.4" y="578.84" transform="rotate(-272.58 447.4 578.84)" text-anchor="start" dy="0.36em">89</text>
<text x="455.28" y="578.37" transform="rotate(-274.36 455.28 578.37)" text-anchor="start" dy="0.36em">15</text>
<text x="463.14" y="577.64" transform="rotate(-276.15 463.14 577.64)" text-anchor="start" dy="0.36em">35</text>
<text x="470.98" y="576.68" transform="rotate(-277.93 470.98 576.68)" text-anchor="start" dy="0.36em">88</text>
<text x="478.78" y="575.46" transform="rotate(-279.72 478.78 575.46)" text-anchor="start" dy="0.36em">40</text>
<text x="486.54" y="574.01" transform="rotate(-281.5 486.54 574.01)" text-anchor="start" dy="0.36em">46</text>
<text x="494.25" y="572.32" transform="rotate(-283.28 494.25 572.32)" text-anchor="start" dy="0.36em">13</text>
<text x="501.9" y="570.38" transform="rotate(-285.07 501.9 570.38)" text-anchor="start" dy="0.36em">42</text>
<text x="509.49" y="568.21" transform="rotate(-286.85 509.49 568.21)" text-anchor="start" dy="0.36em">17</text>
<text x="517.01" y="565.81" transform="rotate(-288.64 517.01 565.81)" text-anchor="start" dy="0.36em">140</text>
<text x="524.45" y="563.17" transform="rotate(-290.42 524.45 563.17)" text-anchor="start" dy="0.36em">31</text>
<text x="531.81" y="560.3" transform="rotate(-292.21 531.81 560.3)" text-anchor="start" dy="0.36em">33</text>
<text x="539.07" y="557.2" transform="rotate(-293.99 539.07 557.2)" text-anchor="start" dy="0.36em">22</text>
<text x="546.23" y="553.88" transform="rotate(-295.78 546.23 553.88)" text-anchor="start" dy="0.36em">51</text>
<text x="553.29" y="550.33" transform="rotate(-297.56 553.29 550.33)" text-anchor="start" dy="0.36em">26</text>
<text x="560.23" y="546.57" transform="rotate(-299.34 560.23 546.57)" text-anchor="start" dy="0.36em">141</text>
<text x="567.05" y="542.6" transform="rotate(-301.13 567.05 542.6)" text-anchor="start" dy="0.36em">20</text>
<text x="573.74" y="538.41" transform="rotate(-302.91 573.74 538.41)" text-anchor="start" dy="0.36em">50</text>
<text x="580.31" y="534.02" transform="rotate(-304.7 580.31 534.02)" text-anchor="start" dy="0.36em">12</text>
<text x="586.73" y="529.42" transform="rotate(-306.48 586.73 529.42)" text-anchor="start" dy="0.36em">23</text>
<text x="593" y="524.63" transform="rotate(-308.27 593 524.63)" text-anchor="start" dy="0.36em">21</text>
<text x="599.12" y="519.65" transform="rotate(-310.05 599.12 519.65)" text-anchor="start" dy="0.36em">28</text>
<text x="605.08" y="514.47" transform="rotate(-311.84 605.08 514.47)" text-anchor="start" dy="0.36em">41</text>
<text x="610.88" y="509.12" transform="rotate(-313.62 610.88 509.12)" text-anchor="start" dy="0.36em">43</text>
<text x="616.51" y="503.58" transform="rotate(-315.4 616.51 503.58)" text-anchor="start" dy="0.36em">93</text>
<text x="621.97" y="497.87" transform="rotate(-317.19 621.97 497.87)" text-anchor="start" dy="0.36em">38</text>
<text x="627.24" y="492" transform="rotate(-318.97 627.24 492)" text-anchor="start" dy="0.36em">47</text>
<text x="632.33" y="485.96" transform="rotate(-320.76 632.33 485.96)" text-anchor="start" dy="0.36em">44</text>
<text x="637.23" y="479.77" transform="rotate(-322.54 637.23 479.77)" text-anchor="start" dy="0.36em">94</text>
<text x="641.93" y="473.43" transform="rotate(-324.33 641.93 473.43)" text-anchor="start" dy="0.36em">57</text>
<text x="646.44" y="466.94" transform="rotate(-326.11 646.44 466.94)" text-anchor="start" dy="0.36em">91</text>
<text x="650.74" y="460.32" transform="rotate(-327.9 650.74 460.32)" text-anchor="start" dy="0.36em">25</text>
<text x="654.83" y="453.57" transform="rotate(-329.68 654.83 453.57)" text-anchor="start" dy="0.36em">36</text>
<text x="658.71" y="446.69" transform="rotate(-331.47 658.71 446.69)" text-anchor="start" dy="0.36em">85</text>
<text x="662.37" y="439.7" transform="rotate(-333.25 662.37 439.7)" text-anchor="start" dy="0.36em">87</text>
<text x="665.81" y="432.6" transform="rotate(-335.03 665.81 432.6)" text-anchor="start" dy="0.36em">30</text>
<text x="669.03" y="425.39" transform="rotate(-336.82 669.03 425.39)" text-anchor="start" dy="0.36em">39</text>
<text x="672.03" y="418.08" transform="rotate(-338.6 672.03 418.08)" text-anchor="start" dy="0.36em">49</text>
<text x="674.79" y="410.69" transform="rotate(-340.39 674.79 410.69)" text-anchor="start" dy="0.36em">86</text>
<text x="677.33" y="403.21" transform="rotate(-342.17 677.33 403.21)" text-anchor="start" dy="0.36em">83</text>
<text x="679.63" y="395.66" transform="rotate(-343.96 679.63 395.66)" text-anchor="start" dy="0.36em">69</text>
<text x="681.69" y="388.04" transform="rotate(-345.74 681.69 388.04)" text-anchor="start" dy="0.36em">75</text>
<text x="683.52" y="380.36" transform="rotate(-347.53 683.52 380.36)" text-anchor="start" dy="0.36em">70</text>
<text x="685.1" y="372.62" transform="rotate(-349.31 685.1 372.62)" text-anchor="start" dy="0.36em">74</text>
<text x="686.44" y="364.84" transform="rotate(-351.1 686.44 364.84)" text-anchor="start" dy="0.36em">78</text>
<text x="687.54" y="357.02" transform="rotate(-352.88 687.54 357.02)" text-anchor="start" dy="0.36em">76</text>
<text x="688.4" y="349.17" transform="rotate(-354.66 688.4 349.17)" text-anchor="start" dy="0.36em">77</text>
<text x="689.01" y="341.3" transform="rotate(-356.45 689.01 341.3)" text-anchor="start" dy="0.36em">111</text>
<text x="689.38" y="333.42" transform="rotate(-358.23 689.38 333.42)" text-anchor="start" dy="0.36em">34</text>
<text x="689.5" y="325.52" transform="rotate(-0.02 689.5 325.52)" text-anchor="start" dy="0.36em">104</text>
<text x="689.37" y="317.63" transform="rotate(-1.8 689.37 317.63)" text-anchor="start" dy="0.36em">109</text>
<text x="689" y="309.74" transform="rotate(-3.59 689 309.74)" text-anchor="start" dy="0.36em">79</text>
<text x="688.39" y="301.87" transform="rotate(-5.37 688.39 301.87)" text-anchor="start" dy="0.36em">81</text>
<text x="687.53" y="294.02" transform="rotate(-7.16 687.53 294.02)" text-anchor="start" dy="0.36em">132</text>
<text x="686.42" y="286.21" transform="rotate(-8.94 686.42 286.21)" text-anchor="start" dy="0.36em">80</text>
<text x="685.07" y="278.43" transform="rotate(-10.72 685.07 278.43)" text-anchor="start" dy="0.36em">14</text>
<text x="683.48" y="270.69" transform="rotate(-12.51 683.48 270.69)" text-anchor="start" dy="0.36em">32</text>
<text x="681.65" y="263.01" transform="rotate(-14.29 681.65 263.01)" text-anchor="start" dy="0.36em">118</text>
<text x="679.58" y="255.39" transform="rotate(-16.08 679.58 255.39)" text-anchor="start" dy="0.36em">142</text>
<text x="677.28" y="247.84" transform="rotate(-17.86 677.28 247.84)" text-anchor="start" dy="0.36em">82</text>
<text x="674.74" y="240.37" transform="rotate(-19.65 674.74 240.37)" text-anchor="start" dy="0.36em">92</text>
<text x="671.97" y="232.97" transform="rotate(-21.43 671.97 232.97)" text-anchor="start" dy="0.36em">65</text>
<text x="668.97" y="225.67" transform="rotate(-23.22 668.97 225.67)" text-anchor="start" dy="0.36em">97</text>
<text x="665.75" y="218.46" transform="rotate(-25 665.75 218.46)" text-anchor="start" dy="0.36em">100</text>
<text x="662.3" y="211.36" transform="rotate(-26.78 662.3 211.36)" text-anchor="start" dy="0.36em">60</text>
<text x="658.63" y="204.37" transform="rotate(-28.57 658.63 204.37)" text-anchor="start" dy="0.36em">98</text>
<text x="654.75" y="197.5" transform="rotate(-30.35 654.75 197.5)" text-anchor="start" dy="0.36em">62</text>
<text x="650.65" y="190.75" transform="rotate(-32.14 650.65 190.75)" text-anchor="start" dy="0.36em">67</text>
<text x="646.35" y="184.13" transform="rotate(-33.92 646.35 184.13)" text-anchor="start" dy="0.36em">61</text>
<text x="641.84" y="177.65" transform="rotate(-35.71 641.84 177.65)" text-anchor="start" dy="0.36em">63</text>
<text x="637.14" y="171.31" transform="rotate(-37.49 637.14 171.31)" text-anchor="start" dy="0.36em">99</text>
<text x="632.23" y="165.12" transform="rotate(-39.28 632.23 165.12)" text-anchor="start" dy="0.36em">101</text>
<text x="627.14" y="159.09" transform="rotate(-41.06 627.14 159.09)" text-anchor="start" dy="0.36em">96</text>
<text x="621.86" y="153.21" transform="rotate(-42.85 621.86 153.21)" text-anchor="start" dy="0.36em">59</text>
<text x="616.41" y="147.51" transform="rotate(-44.63 616.41 147.51)" text-anchor="start" dy="0.36em">64</text>
<text x="610.77" y="141.98" transform="rotate(-46.41 610.77 141.98)" text-anchor="start" dy="0.36em">66</text>
<text x="604.97" y="136.62" transform="rotate(-48.2 604.97 136.62)" text-anchor="start" dy="0.36em">170</text>
<text x="599" y="131.45" transform="rotate(-49.98 599 131.45)" text-anchor="start" dy="0.36em">187</text>
<text x="592.88" y="126.47" transform="rotate(-51.77 592.88 126.47)" text-anchor="start" dy="0.36em">181</text>
<text x="586.6" y="121.68" transform="rotate(-53.55 586.6 121.68)" text-anchor="start" dy="0.36em">182</text>
<text x="580.18" y="117.09" transform="rotate(-55.34 580.18 117.09)" text-anchor="start" dy="0.36em">184</text>
<text x="573.61" y="112.7" transform="rotate(-57.12 573.61 112.7)" text-anchor="start" dy="0.36em">179</text>
<text x="566.92" y="108.52" transform="rotate(-58.91 566.92 108.52)" text-anchor="start" dy="0.36em">183</text>
<text x="560.1" y="104.55" transform="rotate(-60.69 560.1 104.55)" text-anchor="start" dy="0.36em">186</text>
<text x="553.15" y="100.79" transform="rotate(-62.48 553.15 100.79)" text-anchor="start" dy="0.36em">178</text>
<text x="546.09" y="97.25" transform="rotate(-64.26 546.09 97.25)" text-anchor="start" dy="0.36em">180</text>
<text x="538.93" y="93.94" transform="rotate(-66.04 538.93 93.94)" text-anchor="start" dy="0.36em">185</text>
<text x="531.67" y="90.84" transform="rotate(-67.83 531.67 90.84)" text-anchor="start" dy="0.36em">173</text>
<text x="524.31" y="87.98" transform="rotate(-69.61 524.31 87.98)" text-anchor="start" dy="0.36em">174</text>
<text x="516.87" y="85.34" transform="rotate(-71.4 516.87 85.34)" text-anchor="start" dy="0.36em">172</text>
<text x="509.35" y="82.94" transform="rotate(-73.18 509.35 82.94)" text-anchor="start" dy="0.36em">175</text>
<text x="501.75" y="80.78" transform="rotate(-74.97 501.75 80.78)" text-anchor="start" dy="0.36em">176</text>
<text x="494.1" y="78.85" transform="rotate(-76.75 494.1 78.85)" text-anchor="start" dy="0.36em">171</text>
<text x="486.39" y="77.16" transform="rotate(-78.54 486.39 77.16)" text-anchor="start" dy="0.36em">177</text>
<text x="478.62" y="75.71" transform="rotate(-80.32 478.62 75.71)" text-anchor="start" dy="0.36em">152</text>
<text x="470.82" y="74.5" transform="rotate(-82.1 470.82 74.5)" text-anchor="start" dy="0.36em">164</text>
<text x="462.99" y="73.54" transform="rotate(-83.89 462.99 73.54)" text-anchor="start" dy="0.36em">166</text>
<text x="455.12" y="72.82" transform="rotate(-85.67 455.12 72.82)" text-anchor="start" dy="0.36em">147</text>
<text x="447.24" y="72.35" transform="rotate(-87.46 447.24 72.35)" text-anchor="start" dy="0.36em">146</text>
<text x="439.35" y="72.12" transform="rotate(-89.24 439.35 72.12)" text-anchor="start" dy="0.36em">162</text>
<text x="431.46" y="72.14" transform="rotate(88.97 431.46 72.14)" text-anchor="end" dy="0.36em">165</text>
<text x="423.57" y="72.41" transform="rotate(87.19 423.57 72.41)" text-anchor="end" dy="0.36em">145</text>
<text x="415.69" y="72.92" transform="rotate(85.4 415.69 72.92)" text-anchor="end" dy="0.36em">163</text>
<text x="407.83" y="73.67" transform="rotate(83.62 407.83 73.67)" text-anchor="end" dy="0.36em">151</text>
<text x="400" y="74.67" transform="rotate(81.83 400 74.67)" text-anchor="end" dy="0.36em">161</text>
<text x="392.2" y="75.91" transform="rotate(80.05 392.2 75.91)" text-anchor="end" dy="0.36em">167</text>
<text x="384.45" y="77.4" transform="rotate(78.27 384.45 77.4)" text-anchor="end" dy="0.36em">168</text>
<text x="376.74" y="79.12" transform="rotate(76.48 376.74 79.12)" text-anchor="end" dy="0.36em">154</text>
<text x="369.1" y="81.09" transform="rotate(74.7 369.1 81.09)" text-anchor="end" dy="0.36em">157</text>
<text x="361.51" y="83.29" transform="rotate(72.91 361.51 83.29)" text-anchor="end" dy="0.36em">156</text>
<text x="354" y="85.73" transform="rotate(71.13 354 85.73)" text-anchor="end" dy="0.36em">155</text>
<text x="346.57" y="88.4" transform="rotate(69.34 346.57 88.4)" text-anchor="end" dy="0.36em">144</text>
<text x="339.23" y="91.3" transform="rotate(67.56 339.23 91.3)" text-anchor="end" dy="0.36em">153</text>
<text x="331.98" y="94.42" transform="rotate(65.77 331.98 94.42)" text-anchor="end" dy="0.36em">143</text>
<text x="324.83" y="97.78" transform="rotate(63.99 324.83 97.78)" text-anchor="end" dy="0.36em">150</text>
<text x="317.79" y="101.35" transform="rotate(62.21 317.79 101.35)" text-anchor="end" dy="0.36em">158</text>
<text x="310.87" y="105.14" transform="rotate(60.42 310.87 105.14)" text-anchor="end" dy="0.36em">159</text>
<text x="304.06" y="109.14" transform="rotate(58.64 304.06 109.14)" text-anchor="end" dy="0.36em">148</text>
<text x="297.39" y="113.35" transform="rotate(56.85 297.39 113.35)" text-anchor="end" dy="0.36em">149</text>
<text x="290.84" y="117.77" transform="rotate(55.07 290.84 117.77)" text-anchor="end" dy="0.36em">169</text>
<text x="284.44" y="122.39" transform="rotate(53.28 284.44 122.39)" text-anchor="end" dy="0.36em">160</text>
<text x="278.19" y="127.21" transform="rotate(51.5 278.19 127.21)" text-anchor="end" dy="0.36em">190</text>
<text x="272.09" y="132.22" transform="rotate(49.71 272.09 132.22)" text-anchor="end" dy="0.36em">191</text>
<text x="266.14" y="137.42" transform="rotate(47.93 266.14 137.42)" text-anchor="end" dy="0.36em">200</text>
<text x="260.37" y="142.8" transform="rotate(46.14 260.37 142.8)" text-anchor="end" dy="0.36em">194</text>
<text x="254.76" y="148.36" transform="rotate(44.36 254.76 148.36)" text-anchor="end" dy="0.36em">198</text>
<text x="249.33" y="154.09" transform="rotate(42.58 249.33 154.09)" text-anchor="end" dy="0.36em">188</text>
<text x="244.08" y="159.99" transform="rotate(40.79 244.08 159.99)" text-anchor="end" dy="0.36em">192</text>
<text x="239.01" y="166.04" transform="rotate(39.01 239.01 166.04)" text-anchor="end" dy="0.36em">199</text>
<text x="234.14" y="172.25" transform="rotate(37.22 234.14 172.25)" text-anchor="end" dy="0.36em">189</text>
<text x="229.46" y="178.62" transform="rotate(35.44 229.46 178.62)" text-anchor="end" dy="0.36em">196</text>
<text x="224.99" y="185.12" transform="rotate(33.65 224.99 185.12)" text-anchor="end" dy="0.36em">193</text>
<text x="220.71" y="191.76" transform="rotate(31.87 220.71 191.76)" text-anchor="end" dy="0.36em">195</text>
<text x="216.65" y="198.53" transform="rotate(30.08 216.65 198.53)" text-anchor="end" dy="0.36em">197</text></g>
<path d="M168.49 252.45L169.58 255.36L172.68 255.49L170.25 257.42L171.08 260.41L168.49 258.7L165.91 260.41L166.73 257.42L164.31 255.49L167.41 255.36ZM166.47 260.82L167.56 263.72L170.65 263.86L168.23 265.79L169.06 268.78L166.47 267.06L163.88 268.78L164.71 265.79L162.28 263.86L165.38 263.72ZM164.71 269.24L165.79 272.14L168.89 272.28L166.46 274.21L167.29 277.2L164.71 275.49L162.12 277.2L162.95 274.21L160.52 272.28L163.62 272.14ZM160.3 303.36L161.39 306.26L164.49 306.4L162.06 308.33L162.89 311.32L160.3 309.6L157.72 311.32L158.55 308.33L156.12 306.4L159.22 306.26ZM159.7 320.55L160.79 323.46L163.89 323.59L161.46 325.52L162.29 328.51L159.7 326.8L157.12 328.51L157.94 325.52L155.52 323.59L158.62 323.46ZM178.39 421.5L179.48 424.41L182.58 424.54L180.15 426.47L180.98 429.46L178.39 427.75L175.81 429.46L176.64 426.47L174.21 424.54L177.31 424.41ZM181.63 429.48L182.72 432.38L185.81 432.52L183.39 434.45L184.22 437.44L181.63 435.72L179.04 437.44L179.87 434.45L177.45 432.52L180.54 432.38ZM188.84 445.1L189.92 448.01L193.02 448.14L190.6 450.07L191.42 453.06L188.84 451.35L186.25 453.06L187.08 450.07L184.65 448.14L187.75 448.01ZM197.01 460.25L198.09 463.15L201.19 463.29L198.76 465.22L199.59 468.21L197.01 466.5L194.42 468.21L195.25 465.22L192.82 463.29L195.92 463.15ZM206.1 474.86L207.19 477.76L210.28 477.9L207.86 479.83L208.69 482.82L206.1 481.11L203.51 482.82L204.34 479.83L201.92 477.9L205.01 477.76ZM210.98 481.94L212.07 484.85L215.17 484.98L212.74 486.91L213.57 489.9L210.98 488.19L208.4 489.9L209.23 486.91L206.8 484.98L209.9 484.85ZM232.65 508.66L233.74 511.56L236.84 511.7L234.41 513.63L235.24 516.62L232.65 514.91L230.07 516.62L230.89 513.63L228.47 511.7L231.57 511.56ZM257.47 532.48L258.56 535.38L261.66 535.52L259.23 537.45L260.06 540.44L257.47 538.73L254.89 540.44L255.71 537.45L253.29 535.52L256.39 535.38ZM270.95 543.18L272.03 546.09L275.13 546.22L272.7 548.15L273.53 551.14L270.95 549.43L268.36 551.14L269.19 548.15L266.76 546.22L269.86 546.09ZM285.06 553.03L286.15 555.93L289.24 556.07L286.82 558L287.65 560.99L285.06 559.28L282.47 560.99L283.3 558L280.87 556.07L283.97 555.93ZM292.34 557.62L293.43 560.52L296.52 560.66L294.1 562.59L294.93 565.58L292.34 563.86L289.75 565.58L290.58 562.59L288.15 560.66L291.25 560.52ZM299.76 561.97L300.84 564.88L303.94 565.02L301.52 566.95L302.34 569.93L299.76 568.22L297.17 569.93L298 566.95L295.57 565.02L298.67 564.88ZM307.31 566.1L308.4 569.01L311.49 569.14L309.07 571.07L309.9 574.06L307.31 572.35L304.72 574.06L305.55 571.07L303.13 569.14L306.22 569.01ZM330.68 577.04L331.77 579.95L334.87 580.08L332.44 582.01L333.27 585L330.68 583.29L328.1 585L328.93 582.01L326.5 580.08L329.6 579.95ZM414.03 597.03L415.11 599.93L418.21 600.07L415.79 602L416.61 604.98L414.03 603.27L411.44 604.98L412.27 602L409.84 600.07L412.94 599.93ZM482.62 593.94L483.71 596.84L486.81 596.98L484.38 598.91L485.21 601.9L482.62 600.19L480.04 601.9L480.87 598.91L478.44 596.98L481.54 596.84ZM524.3 583.41L525.39 586.32L528.48 586.45L526.06 588.38L526.89 591.37L524.3 589.66L521.71 591.37L522.54 588.38L520.12 586.45L523.21 586.32ZM563.84 566.55L564.92 569.45L568.02 569.59L565.6 571.52L566.42 574.51L563.84 572.8L561.25 574.51L562.08 571.52L559.65 569.59L562.75 569.45ZM626.61 521.62L627.7 524.53L630.8 524.66L628.37 526.59L629.2 529.58L626.61 527.87L624.03 529.58L624.86 526.59L622.43 524.66L625.53 524.53ZM632.75 515.59L633.84 518.49L636.93 518.63L634.51 520.56L635.34 523.55L632.75 521.84L630.16 523.55L630.99 520.56L628.57 518.63L631.66 518.49ZM638.7 509.37L639.78 512.27L642.88 512.41L640.45 514.34L641.28 517.33L638.7 515.61L636.11 517.33L636.94 514.34L634.51 512.41L637.61 512.27ZM696.27 414.34L697.36 417.24L700.46 417.38L698.03 419.31L698.86 422.3L696.27 420.59L693.68 422.3L694.51 419.31L692.09 417.38L695.18 417.24ZM705.78 381.28L706.86 384.18L709.96 384.32L707.54 386.25L708.36 389.24L705.78 387.53L703.19 389.24L704.02 386.25L701.59 384.32L704.69 384.18ZM707.51 372.85L708.59 375.75L711.69 375.89L709.26 377.82L710.09 380.81L707.51 379.1L704.92 380.81L705.75 377.82L703.32 375.89L706.42 375.75ZM711.77 338.72L712.86 341.62L715.95 341.76L713.53 343.69L714.36 346.68L711.77 344.96L709.18 346.68L710.01 343.69L707.58 341.76L710.68 341.62ZM712.17 330.12L713.25 333.02L716.35 333.16L713.93 335.09L714.75 338.08L712.17 336.37L709.58 338.08L710.41 335.09L707.98 333.16L711.08 333.02ZM712.16 312.91L713.25 315.82L716.35 315.95L713.92 317.88L714.75 320.87L712.16 319.16L709.58 320.87L710.41 317.88L707.98 315.95L711.08 315.82ZM711.76 304.32L712.85 307.22L715.94 307.36L713.52 309.29L714.35 312.28L711.76 310.56L709.17 312.28L710 309.29L707.57 307.36L710.67 307.22ZM710.15 287.18L711.23 290.09L714.33 290.22L711.91 292.15L712.73 295.14L710.15 293.43L707.56 295.14L708.39 292.15L705.96 290.22L709.06 290.09ZM708.94 278.66L710.03 281.57L713.13 281.7L710.7 283.63L711.53 286.62L708.94 284.91L706.36 286.62L707.19 283.63L704.76 281.7L707.86 281.57ZM682.65 197.09L683.74 199.99L686.84 200.13L684.41 202.06L685.24 205.05L682.65 203.34L680.07 205.05L680.9 202.06L678.47 200.13L681.57 199.99ZM660.36 160.34L661.44 163.24L664.54 163.38L662.12 165.31L662.94 168.3L660.36 166.59L657.77 168.3L658.6 165.31L656.17 163.38L659.27 163.24ZM644.33 140.11L645.42 143.01L648.52 143.15L646.09 145.08L646.92 148.07L644.33 146.36L641.75 148.07L642.58 145.08L640.15 143.15L643.25 143.01ZM638.58 133.71L639.67 136.61L642.77 136.75L640.34 138.68L641.17 141.67L638.58 139.96L635.99 141.67L636.82 138.68L634.4 136.75L637.49 136.61ZM626.49 121.46L627.58 124.37L630.68 124.5L628.25 126.43L629.08 129.42L626.49 127.71L623.9 129.42L624.73 126.43L622.31 124.5L625.41 124.37Z" fill="#f20d0d"/>
<rect x="106.5" y="658.4" width="11.79" height="64.5" fill="#ff0000"/>
<rect x="118.24" y="658.4" width="11.79" height="64.5" fill="#ff0000"/>
<rect x="129.98" y="658.4" width="11.79" height="64.5" fill="#ff0000"/>
<rect x="141.72" y="658.4" width="11.79" height="64.5" fill="#ff0000"/>
<rect x="153.46" y="658.4" width="11.79" height="64.5" fill="#ff0000"/>
<rect x="165.2" y="658.4" width="11.79" height="64.5" fill="#ff0000"/>
<rect x="176.94" y="658.4" width="11.79" height="64.5" fill="#ff0000"/>
<rect x="188.68" y="658.4" width="11.79" height="64.5" fill="#ff0000"/>
<rect x="200.42" y="658.4" width="11.79" height="64.5" fill="#ff0000"/>
<rect x="212.16" y="658.4" width="11.79" height="64.5" fill="#ff0000"/>
<rect x="223.9" y="658.4" width="11.79" height="64.5" fill="#ff0000"/>
<rect x="235.64" y="658.4" width="11.79" height="64.5" fill="#ff0000"/>
<rect x="247.38" y="658.4" width="11.79" height="64.5" fill="#ff0000"/>
<rect x="259.12" y="658.4" width="11.79" height="64.5" fill="#ff0000"/>
<rect x="270.86" y="658.4" width="11.79" height="64.5" fill="#ff0000"/>
<rect x="282.6" y="658.4" width="11.79" height="64.5" fill="#ff0000"/>
<rect x="294.34" y="658.4" width="11.79" height="64.5" fill="#ff0000"/>
<rect x="306.08" y="658.4" width="11.79" height="64.5" fill="#ff0000"/>
<rect x="317.82" y="658.4" width="11.79" height="64.5" fill="#ff0000"/>
<rect x="329.56" y="658.4" width="11.79" height="64.5" fill="#ff0000"/>
<rect x="341.3" y="658.4" width="11.79" height="64.5" fill="#ff0000"/>
<rect x="353.04" y="658.4" width="11.79" height="64.5" fill="#ff0000"/>
<rect x="364.78" y="658.4" width="11.79" height="64.5" fill="#ff0000"/>
<rect x="376.52" y="658.4" width="11.79" height="64.5" fill="#ff0000"/>
<rect x="388.26" y="658.4" width="11.79" height="64.5" fill="#ff0000"/>
<rect x="400" y="658.4" width="11.79" height="64.5" fill="#ff0000"/>
<rect x="411.74" y="658.4" width="11.79" height="64.5" fill="#ff0000"/>
<rect x="423.48" y="658.4" width="11.79" height="64.5" fill="#ff0000"/>
<rect x="435.22" y="658.4" width="11.79" height="64.5" fill="#ff0000"/>
<rect x="446.96" y="658.4" width="11.79" height="64.5" fill="#ff0000"/>
<rect x="458.7" y="658.4" width="11.79" height="64.5" fill="#ff0000"/>
<rect x="470.44" y="658.4" width="11.79" height="64.5" fill="#ff0000"/>
<rect x="482.18" y="658.4" width="11.79" height="64.5" fill="#ff0000"/>
<rect x="493.92" y="658.4" width="11.79" height="64.5" fill="#ff0000"/>
<rect x="505.66" y="658.4" width="11.79" height="64.5" fill="#ff0000"/>
<rect x="517.4" y="658.4" width="11.79" height="64.5" fill="#ff0000"/>
<rect x="529.14" y="658.4" width="11.79" height="64.5" fill="#ff0000"/>
<rect x="540.88" y="658.4" width="11.79" height="64.5" fill="#ff0000"/>
<rect x="552.62" y="658.4" width="11.79" height="64.5" fill="#ff0000"/>
<rect x="564.36" y="658.4" width="11.79" height="64.5" fill="#ff0000"/>
<rect x="576.1" y="658.4" width="11.79" height="64.5" fill="#ff0000"/>
<rect x="587.84" y="658.4" width="11.79" height="64.5" fill="#ff0000"/>
<rect x="599.58" y="658.4" width="11.79" height="64.5" fill="#ff0000"/>
<rect x="611.32" y="658.4" width="11.79" height="64.5" fill="#ff0000"/>
<rect x="623.06" y="658.4" width="11.79" height="64.5" fill="#ff0000"/>
<rect x="634.8" y="658.4" width="11.79" height="64.5" fill="#ff0000"/>
<rect x="646.54" y="658.4" width="11.79" height="64.5" fill="#ff0000"/>
<rect x="658.28" y="658.4" width="11.79" height="64.5" fill="#ff0000"/>
<rect x="670.02" y="658.4" width="11.79" height="64.5" fill="#ff0000"/>
<rect x="681.76" y="658.4" width="11.79" height="64.5" fill="#ff0000"/>
<path d="M106.5 658.4V722.9M118.24 658.4V722.9M129.98 658.4V722.9M141.72 658.4V722.9M153.46 658.4V722.9M165.2 658.4V722.9M176.94 658.4V722.9M188.68 658.4V722.9M200.42 658.4V722.9M212.16 658.4V722.9M223.9 658.4V722.9M235.64 658.4V722.9M247.38 658.4V722.9M259.12 658.4V722.9M270.86 658.4V722.9M282.6 658.4V722.9M294.34 658.4V722.9M306.08 658.4V722.9M317.82 658.4V722.9M329.56 658.4V722.9M341.3 658.4V722.9M353.04 658.4V722.9M364.78 658.4V722.9M376.52 658.4V722.9M388.26 658.4V722.9M400 658.4V722.9M411.74 658.4V722.9M423.48 658.4V722.9M435.22 658.4V722.9M446.96 658.4V722.9M458.7 658.4V722.9M470.44 658.4V722.9M482.18 658.4V722.9M493.92 658.4V722.9M505.66 658.4V722.9M517.4 658.4V722.9M529.14 658.4V722.9M540.88 658.4V722.9M552.62 658.4V722.9M564.36 658.4V722.9M576.1 658.4V722.9M587.84 658.4V722.9M599.58 658.4V722.9M611.32 658.4V722.9M623.06 658.4V722.9M634.8 658.4V722.9M646.54 658.4V722.9M658.28 658.4V722.9M670.02 658.4V722.9M681.76 658.4V722.9M693.5 658.4V722.9M106.5 658.4H693.5" stroke="#1a1a1a" stroke-width="1.15" fill="none"/>
<path d="M105.7 656.9V722.9H702.5" stroke="#333" stroke-width="0.9" fill="none"/>
<text x="99" y="722.9" dy="0.35em" text-anchor="end" class="yl">0.00</text>
<text x="99" y="710" dy="0.35em" text-anchor="end" class="yl">0.20</text>
<text x="99" y="697.1" dy="0.35em" text-anchor="end" class="yl">0.40</text>
<text x="99" y="684.2" dy="0.35em" text-anchor="end" class="yl">0.60</text>
<text x="99" y="671.3" dy="0.35em" text-anchor="end" class="yl">0.80</text>
<text x="99" y="658.4" dy="0.35em" text-anchor="end" class="yl">1.00</text>
<path d="M103.4 722.9H105.7M103.4 710H105.7M103.4 697.1H105.7M103.4 684.2H105.7M103.4 671.3H105.7M103.4 658.4H105.7M112.37 722.9V725.2M124.11 722.9V725.2M135.85 722.9V725.2M147.59 722.9V725.2M159.33 722.9V725.2M171.07 722.9V725.2M182.81 722.9V725.2M194.55 722.9V725.2M206.29 722.9V725.2M218.03 722.9V725.2M229.77 722.9V725.2M241.51 722.9V725.2M253.25 722.9V725.2M264.99 722.9V725.2M276.73 722.9V725.2M288.47 722.9V725.2M300.21 722.9V725.2M311.95 722.9V725.2M323.69 722.9V725.2M335.43 722.9V725.2M347.17 722.9V725.2M358.91 722.9V725.2M370.65 722.9V725.2M382.39 722.9V725.2M394.13 722.9V725.2M405.87 722.9V725.2M417.61 722.9V725.2M429.35 722.9V725.2M441.09 722.9V725.2M452.83 722.9V725.2M464.57 722.9V725.2M476.31 722.9V725.2M488.05 722.9V725.2M499.79 722.9V725.2M511.53 722.9V725.2M523.27 722.9V725.2M535.01 722.9V725.2M546.75 722.9V725.2M558.49 722.9V725.2M570.23 722.9V725.2M581.97 722.9V725.2M593.71 722.9V725.2M605.45 722.9V725.2M617.19 722.9V725.2M628.93 722.9V725.2M640.67 722.9V725.2M652.41 722.9V725.2M664.15 722.9V725.2M675.89 722.9V725.2M687.63 722.9V725.2" stroke="#333" stroke-width="0.7" fill="none"/>
<text x="115.37" y="731.9" text-anchor="middle" class="xl">93(1)</text>
<text x="127.11" y="737.4" text-anchor="middle" class="xl">57(1)</text>
<text x="138.85" y="731.9" text-anchor="middle" class="xl">80(1)</text>
<text x="150.59" y="737.4" text-anchor="middle" class="xl">86(1)</text>
<text x="162.33" y="731.9" text-anchor="middle" class="xl">88(1)</text>
<text x="174.07" y="737.4" text-anchor="middle" class="xl">91(1)</text>
<text x="185.81" y="731.9" text-anchor="middle" class="xl">95(1)</text>
<text x="197.55" y="737.4" text-anchor="middle" class="xl">98(1)</text>
<text x="209.29" y="731.9" text-anchor="middle" class="xl">103(2)</text>
<text x="221.03" y="737.4" text-anchor="middle" class="xl">128(2)</text>
<text x="232.77" y="731.9" text-anchor="middle" class="xl">132(2)</text>
<text x="244.51" y="737.4" text-anchor="middle" class="xl">133(2)</text>
<text x="256.25" y="731.9" text-anchor="middle" class="xl">134(2)</text>
<text x="267.99" y="737.4" text-anchor="middle" class="xl">2(1)</text>
<text x="279.73" y="731.9" text-anchor="middle" class="xl">3(1)</text>
<text x="291.47" y="737.4" text-anchor="middle" class="xl">81(1)</text>
<text x="303.21" y="731.9" text-anchor="middle" class="xl">82(1)</text>
<text x="314.95" y="737.4" text-anchor="middle" class="xl">94(1)</text>
<text x="326.69" y="731.9" text-anchor="middle" class="xl">96(1)</text>
<text x="338.43" y="737.4" text-anchor="middle" class="xl">99(1)</text>
<text x="350.17" y="731.9" text-anchor="middle" class="xl">114(2)</text>
<text x="361.91" y="737.4" text-anchor="middle" class="xl">118(2)</text>
<text x="373.65" y="731.9" text-anchor="middle" class="xl">1(1)</text>
<text x="385.39" y="737.4" text-anchor="middle" class="xl">6(1)</text>
<text x="397.13" y="731.9" text-anchor="middle" class="xl">52(1)</text>
<text x="408.87" y="737.4" text-anchor="middle" class="xl">54(1)</text>
<text x="420.61" y="731.9" text-anchor="middle" class="xl">84(1)</text>
<text x="432.35" y="737.4" text-anchor="middle" class="xl">89(1)</text>
<text x="444.09" y="731.9" text-anchor="middle" class="xl">90(1)</text>
<text x="455.83" y="737.4" text-anchor="middle" class="xl">105(2)</text>
<text x="467.57" y="731.9" text-anchor="middle" class="xl">129(2)</text>
<text x="479.31" y="737.4" text-anchor="middle" class="xl">4(1)</text>
<text x="491.05" y="731.9" text-anchor="middle" class="xl">5(1)</text>
<text x="502.79" y="737.4" text-anchor="middle" class="xl">92(1)</text>
<text x="514.53" y="731.9" text-anchor="middle" class="xl">102(2)</text>
<text x="526.27" y="737.4" text-anchor="middle" class="xl">104(2)</text>
<text x="538.01" y="731.9" text-anchor="middle" class="xl">113(2)</text>
<text x="549.75" y="737.4" text-anchor="middle" class="xl">58(1)</text>
<text x="561.49" y="731.9" text-anchor="middle" class="xl">62(1)</text>
<text x="573.23" y="737.4" text-anchor="middle" class="xl">97(1)</text>
<text x="584.97" y="731.9" text-anchor="middle" class="xl">127(2)</text>
<text x="596.71" y="737.4" text-anchor="middle" class="xl">112(2)</text>
<text x="608.45" y="731.9" text-anchor="middle" class="xl">138(2)</text>
<text x="620.19" y="737.4" text-anchor="middle" class="xl">125(2)</text>
<text x="631.93" y="731.9" text-anchor="middle" class="xl">51(1)</text>
<text x="643.67" y="737.4" text-anchor="middle" class="xl">55(1)</text>
<text x="655.41" y="731.9" text-anchor="middle" class="xl">87(1)</text>
<text x="667.15" y="737.4" text-anchor="middle" class="xl">111(2)</text>
<text x="678.89" y="731.9" text-anchor="middle" class="xl">117(2)</text>
<text x="690.63" y="737.4" text-anchor="middle" class="xl">7(1)</text>
<rect x="106.5" y="751.2" width="11.79" height="64.5" fill="#ff0000"/>
<rect x="118.24" y="751.2" width="11.79" height="64.5" fill="#ff0000"/>
<rect x="129.98" y="751.2" width="11.79" height="64.5" fill="#ff0000"/>
<rect x="141.72" y="751.2" width="11.79" height="64.5" fill="#ff0000"/>
<rect x="153.46" y="751.2" width="11.79" height="64.5" fill="#ff0000"/>
<rect x="165.2" y="751.2" width="11.79" height="64.5" fill="#ff0000"/>
<rect x="176.94" y="751.2" width="11.79" height="64.5" fill="#ff0000"/>
<rect x="188.68" y="751.2" width="11.79" height="64.5" fill="#ff0000"/>
<rect x="200.42" y="751.2" width="11.79" height="64.5" fill="#ff0000"/>
<rect x="212.16" y="751.2" width="11.79" height="64.5" fill="#ff0000"/>
<rect x="223.9" y="751.2" width="11.79" height="64.5" fill="#ff0000"/>
<rect x="235.64" y="751.2" width="11.79" height="64.5" fill="#ff0000"/>
<rect x="247.38" y="751.2" width="11.79" height="64.11" fill="#ff0000"/>
<rect x="247.38" y="815.31" width="11.79" height="0.39" fill="#00ff00"/>
<rect x="259.12" y="751.2" width="11.79" height="63.08" fill="#ff0000"/>
<rect x="259.12" y="814.28" width="11.79" height="1.42" fill="#00ff00"/>
<rect x="270.86" y="751.2" width="11.79" height="62.82" fill="#ff0000"/>
<rect x="270.86" y="814.02" width="11.79" height="1.68" fill="#00ff00"/>
<rect x="282.6" y="751.2" width="11.79" height="62.5" fill="#ff0000"/>
<rect x="282.6" y="813.7" width="11.79" height="2" fill="#00ff00"/>
<rect x="294.34" y="751.2" width="11.79" height="62.31" fill="#ff0000"/>
<rect x="294.34" y="813.51" width="11.79" height="2.19" fill="#00ff00"/>
<rect x="306.08" y="751.2" width="11.79" height="61.98" fill="#ff0000"/>
<rect x="306.08" y="813.18" width="11.79" height="2.52" fill="#00ff00"/>
<rect x="317.82" y="751.2" width="11.79" height="60.11" fill="#ff0000"/>
<rect x="317.82" y="811.31" width="11.79" height="4.39" fill="#00ff00"/>
<rect x="329.56" y="751.2" width="11.79" height="59.47" fill="#ff0000"/>
<rect x="329.56" y="810.67" width="11.79" height="5.03" fill="#00ff00"/>
<rect x="341.3" y="751.2" width="11.79" height="58.89" fill="#ff0000"/>
<rect x="341.3" y="810.09" width="11.79" height="5.61" fill="#00ff00"/>
<rect x="353.04" y="751.2" width="11.79" height="58.37" fill="#ff0000"/>
<rect x="353.04" y="809.57" width="11.79" height="6.13" fill="#00ff00"/>
<rect x="364.78" y="751.2" width="11.79" height="57.53" fill="#ff0000"/>
<rect x="364.78" y="808.73" width="11.79" height="6.97" fill="#00ff00"/>
<rect x="376.52" y="751.2" width="11.79" height="55.02" fill="#ff0000"/>
<rect x="376.52" y="806.22" width="11.79" height="9.48" fill="#00ff00"/>
<rect x="388.26" y="751.2" width="11.79" height="46.89" fill="#ff0000"/>
<rect x="388.26" y="798.09" width="11.79" height="17.61" fill="#00ff00"/>
<rect x="400" y="751.2" width="11.79" height="33.02" fill="#ff0000"/>
<rect x="400" y="784.22" width="11.79" height="31.48" fill="#00ff00"/>
<rect x="411.74" y="751.2" width="11.79" height="64.5" fill="#00ff00"/>
<rect x="423.48" y="751.2" width="11.79" height="64.5" fill="#00ff00"/>
<rect x="435.22" y="751.2" width="11.79" height="64.5" fill="#00ff00"/>
<rect x="446.96" y="751.2" width="11.79" height="64.5" fill="#00ff00"/>
<rect x="458.7" y="751.2" width="11.79" height="64.5" fill="#00ff00"/>
<rect x="470.44" y="751.2" width="11.79" height="64.5" fill="#00ff00"/>
<rect x="482.18" y="751.2" width="11.79" height="64.5" fill="#00ff00"/>
<rect x="493.92" y="751.2" width="11.79" height="64.5" fill="#00ff00"/>
<rect x="505.66" y="751.2" width="11.79" height="64.5" fill="#00ff00"/>
<rect x="517.4" y="751.2" width="11.79" height="64.5" fill="#00ff00"/>
<rect x="529.14" y="751.2" width="11.79" height="64.5" fill="#00ff00"/>
<rect x="540.88" y="751.2" width="11.79" height="64.5" fill="#00ff00"/>
<rect x="552.62" y="751.2" width="11.79" height="64.5" fill="#00ff00"/>
<rect x="564.36" y="751.2" width="11.79" height="64.5" fill="#00ff00"/>
<rect x="576.1" y="751.2" width="11.79" height="64.5" fill="#00ff00"/>
<rect x="587.84" y="751.2" width="11.79" height="64.5" fill="#00ff00"/>
<rect x="599.58" y="751.2" width="11.79" height="64.5" fill="#00ff00"/>
<rect x="611.32" y="751.2" width="11.79" height="64.5" fill="#00ff00"/>
<rect x="623.06" y="751.2" width="11.79" height="64.5" fill="#00ff00"/>
<rect x="634.8" y="751.2" width="11.79" height="64.5" fill="#00ff00"/>
<rect x="646.54" y="751.2" width="11.79" height="64.5" fill="#00ff00"/>
<rect x="658.28" y="751.2" width="11.79" height="64.5" fill="#00ff00"/>
<rect x="670.02" y="751.2" width="11.79" height="64.5" fill="#00ff00"/>
<rect x="681.76" y="751.2" width="11.79" height="64.5" fill="#00ff00"/>
<path d="M106.5 751.2V815.7M118.24 751.2V815.7M129.98 751.2V815.7M141.72 751.2V815.7M153.46 751.2V815.7M165.2 751.2V815.7M176.94 751.2V815.7M188.68 751.2V815.7M200.42 751.2V815.7M212.16 751.2V815.7M223.9 751.2V815.7M235.64 751.2V815.7M247.38 751.2V815.7M259.12 751.2V815.7M270.86 751.2V815.7M282.6 751.2V815.7M294.34 751.2V815.7M306.08 751.2V815.7M317.82 751.2V815.7M329.56 751.2V815.7M341.3 751.2V815.7M353.04 751.2V815.7M364.78 751.2V815.7M376.52 751.2V815.7M388.26 751.2V815.7M400 751.2V815.7M411.74 751.2V815.7M423.48 751.2V815.7M435.22 751.2V815.7M446.96 751.2V815.7M458.7 751.2V815.7M470.44 751.2V815.7M482.18 751.2V815.7M493.92 751.2V815.7M505.66 751.2V815.7M517.4 751.2V815.7M529.14 751.2V815.7M540.88 751.2V815.7M552.62 751.2V815.7M564.36 751.2V815.7M576.1 751.2V815.7M587.84 751.2V815.7M599.58 751.2V815.7M611.32 751.2V815.7M623.06 751.2V815.7M634.8 751.2V815.7M646.54 751.2V815.7M658.28 751.2V815.7M670.02 751.2V815.7M681.76 751.2V815.7M693.5 751.2V815.7M106.5 751.2H693.5" stroke="#1a1a1a" stroke-width="1.15" fill="none"/>
<path d="M105.7 749.7V815.7H702.5" stroke="#333" stroke-width="0.9" fill="none"/>
<text x="99" y="815.7" dy="0.35em" text-anchor="end" class="yl">0.00</text>
<text x="99" y="802.8" dy="0.35em" text-anchor="end" class="yl">0.20</text>
<text x="99" y="789.9" dy="0.35em" text-anchor="end" class="yl">0.40</text>
<text x="99" y="777" dy="0.35em" text-anchor="end" class="yl">0.60</text>
<text x="99" y="764.1" dy="0.35em" text-anchor="end" class="yl">0.80</text>
<text x="99" y="751.2" dy="0.35em" text-anchor="end" class="yl">1.00</text>
<path d="M103.4 815.7H105.7M103.4 802.8H105.7M103.4 789.9H105.7M103.4 777H105.7M103.4 764.1H105.7M103.4 751.2H105.7M112.37 815.7V818M124.11 815.7V818M135.85 815.7V818M147.59 815.7V818M159.33 815.7V818M171.07 815.7V818M182.81 815.7V818M194.55 815.7V818M206.29 815.7V818M218.03 815.7V818M229.77 815.7V818M241.51 815.7V818M253.25 815.7V818M264.99 815.7V818M276.73 815.7V818M288.47 815.7V818M300.21 815.7V818M311.95 815.7V818M323.69 815.7V818M335.43 815.7V818M347.17 815.7V818M358.91 815.7V818M370.65 815.7V818M382.39 815.7V818M394.13 815.7V818M405.87 815.7V818M417.61 815.7V818M429.35 815.7V818M441.09 815.7V818M452.83 815.7V818M464.57 815.7V818M476.31 815.7V818M488.05 815.7V818M499.79 815.7V818M511.53 815.7V818M523.27 815.7V818M535.01 815.7V818M546.75 815.7V818M558.49 815.7V818M570.23 815.7V818M581.97 815.7V818M593.71 815.7V818M605.45 815.7V818M617.19 815.7V818M628.93 815.7V818M640.67 815.7V818M652.41 815.7V818M664.15 815.7V818M675.89 815.7V818M687.63 815.7V818" stroke="#333" stroke-width="0.7" fill="none"/>
<text x="115.37" y="824.7" text-anchor="middle" class="xl">55(1)</text>
<text x="127.11" y="830.2" text-anchor="middle" class="xl">131(2)</text>
<text x="138.85" y="824.7" text-anchor="middle" class="xl">50(1)</text>
<text x="150.59" y="830.2" text-anchor="middle" class="xl">77(1)</text>
<text x="162.33" y="824.7" text-anchor="middle" class="xl">130(2)</text>
<text x="174.07" y="830.2" text-anchor="middle" class="xl">135(2)</text>
<text x="185.81" y="824.7" text-anchor="middle" class="xl">118(2)</text>
<text x="197.55" y="830.2" text-anchor="middle" class="xl">136(2)</text>
<text x="209.29" y="824.7" text-anchor="middle" class="xl">76(1)</text>
<text x="221.03" y="830.2" text-anchor="middle" class="xl">139(2)</text>
<text x="232.77" y="824.7" text-anchor="middle" class="xl">124(2)</text>
<text x="244.51" y="830.2" text-anchor="middle" class="xl">140(2)</text>
<text x="256.25" y="824.7" text-anchor="middle" class="xl">60(1)</text>
<text x="267.99" y="830.2" text-anchor="middle" class="xl">137(2)</text>
<text x="279.73" y="824.7" text-anchor="middle" class="xl">85(1)</text>
<text x="291.47" y="830.2" text-anchor="middle" class="xl">78(1)</text>
<text x="303.21" y="824.7" text-anchor="middle" class="xl">61(1)</text>
<text x="314.95" y="830.2" text-anchor="middle" class="xl">83(1)</text>
<text x="326.69" y="824.7" text-anchor="middle" class="xl">59(1)</text>
<text x="338.43" y="830.2" text-anchor="middle" class="xl">75(1)</text>
<text x="350.17" y="824.7" text-anchor="middle" class="xl">115(2)</text>
<text x="361.91" y="830.2" text-anchor="middle" class="xl">123(2)</text>
<text x="373.65" y="824.7" text-anchor="middle" class="xl">53(1)</text>
<text x="385.39" y="830.2" text-anchor="middle" class="xl">119(2)</text>
<text x="397.13" y="824.7" text-anchor="middle" class="xl">126(2)</text>
<text x="408.87" y="830.2" text-anchor="middle" class="xl">63(1)</text>
<text x="420.61" y="824.7" text-anchor="middle" class="xl">30(1)</text>
<text x="432.35" y="830.2" text-anchor="middle" class="xl">26(1)</text>
<text x="444.09" y="824.7" text-anchor="middle" class="xl">34(1)</text>
<text x="455.83" y="830.2" text-anchor="middle" class="xl">39(1)</text>
<text x="467.57" y="824.7" text-anchor="middle" class="xl">40(1)</text>
<text x="479.31" y="830.2" text-anchor="middle" class="xl">108(2)</text>
<text x="491.05" y="824.7" text-anchor="middle" class="xl">109(2)</text>
<text x="502.79" y="830.2" text-anchor="middle" class="xl">122(2)</text>
<text x="514.53" y="824.7" text-anchor="middle" class="xl">14(1)</text>
<text x="526.27" y="830.2" text-anchor="middle" class="xl">16(1)</text>
<text x="538.01" y="824.7" text-anchor="middle" class="xl">19(1)</text>
<text x="549.75" y="830.2" text-anchor="middle" class="xl">20(1)</text>
<text x="561.49" y="824.7" text-anchor="middle" class="xl">24(1)</text>
<text x="573.23" y="830.2" text-anchor="middle" class="xl">38(1)</text>
<text x="584.97" y="824.7" text-anchor="middle" class="xl">42(1)</text>
<text x="596.71" y="830.2" text-anchor="middle" class="xl">43(1)</text>
<text x="608.45" y="824.7" text-anchor="middle" class="xl">65(1)</text>
<text x="620.19" y="830.2" text-anchor="middle" class="xl">73(1)</text>
<text x="631.93" y="824.7" text-anchor="middle" class="xl">74(1)</text>
<text x="643.67" y="830.2" text-anchor="middle" class="xl">79(1)</text>
<text x="655.41" y="824.7" text-anchor="middle" class="xl">110(2)</text>
<text x="667.15" y="830.2" text-anchor="middle" class="xl">8(1)</text>
<text x="678.89" y="824.7" text-anchor="middle" class="xl">12(1)</text>
<text x="690.63" y="830.2" text-anchor="middle" class="xl">23(1)</text>
<rect x="106.5" y="843.8" width="11.79" height="64.5" fill="#00ff00"/>
<rect x="118.24" y="843.8" width="11.79" height="64.5" fill="#00ff00"/>
<rect x="129.98" y="843.8" width="11.79" height="64.5" fill="#00ff00"/>
<rect x="141.72" y="843.8" width="11.79" height="64.5" fill="#00ff00"/>
<rect x="153.46" y="843.8" width="11.79" height="64.5" fill="#00ff00"/>
<rect x="165.2" y="843.8" width="11.79" height="64.5" fill="#00ff00"/>
<rect x="176.94" y="843.8" width="11.79" height="64.5" fill="#00ff00"/>
<rect x="188.68" y="843.8" width="11.79" height="64.5" fill="#00ff00"/>
<rect x="200.42" y="843.8" width="11.79" height="64.5" fill="#00ff00"/>
<rect x="212.16" y="843.8" width="11.79" height="64.5" fill="#00ff00"/>
<rect x="223.9" y="843.8" width="11.79" height="64.5" fill="#00ff00"/>
<rect x="235.64" y="843.8" width="11.79" height="64.5" fill="#00ff00"/>
<rect x="247.38" y="843.8" width="11.79" height="64.5" fill="#00ff00"/>
<rect x="259.12" y="843.8" width="11.79" height="64.5" fill="#00ff00"/>
<rect x="270.86" y="843.8" width="11.79" height="64.5" fill="#00ff00"/>
<rect x="282.6" y="843.8" width="11.79" height="64.5" fill="#00ff00"/>
<rect x="294.34" y="843.8" width="11.79" height="64.5" fill="#00ff00"/>
<rect x="306.08" y="843.8" width="11.79" height="64.5" fill="#00ff00"/>
<rect x="317.82" y="843.8" width="11.79" height="64.5" fill="#00ff00"/>
<rect x="329.56" y="843.8" width="11.79" height="64.5" fill="#00ff00"/>
<rect x="341.3" y="843.8" width="11.79" height="64.5" fill="#00ff00"/>
<rect x="353.04" y="843.8" width="11.79" height="64.5" fill="#00ff00"/>
<rect x="364.78" y="843.8" width="11.79" height="64.5" fill="#00ff00"/>
<rect x="376.52" y="843.8" width="11.79" height="64.5" fill="#00ff00"/>
<rect x="388.26" y="843.8" width="11.79" height="64.5" fill="#00ff00"/>
<rect x="400" y="843.8" width="11.79" height="64.5" fill="#00ff00"/>
<rect x="411.74" y="843.8" width="11.79" height="64.5" fill="#00ff00"/>
<rect x="423.48" y="843.8" width="11.79" height="64.5" fill="#00ff00"/>
<rect x="435.22" y="843.8" width="11.79" height="64.5" fill="#00ff00"/>
<rect x="446.96" y="843.8" width="11.79" height="0.26" fill="#ff0000"/>
<rect x="446.96" y="844.06" width="11.79" height="64.24" fill="#00ff00"/>
<rect x="458.7" y="843.8" width="11.79" height="0.39" fill="#ff0000"/>
<rect x="458.7" y="844.19" width="11.79" height="64.11" fill="#00ff00"/>
<rect x="470.44" y="843.8" width="11.79" height="0.39" fill="#ff0000"/>
<rect x="470.44" y="844.19" width="11.79" height="64.11" fill="#00ff00"/>
<rect x="482.18" y="843.8" width="11.79" height="0.45" fill="#ff0000"/>
<rect x="482.18" y="844.25" width="11.79" height="64.05" fill="#00ff00"/>
<rect x="493.92" y="843.8" width="11.79" height="0.52" fill="#ff0000"/>
<rect x="493.92" y="844.32" width="11.79" height="63.98" fill="#00ff00"/>
<rect x="505.66" y="843.8" width="11.79" height="0.52" fill="#ff0000"/>
<rect x="505.66" y="844.32" width="11.79" height="63.98" fill="#00ff00"/>
<rect x="517.4" y="843.8" width="11.79" height="0.71" fill="#ff0000"/>
<rect x="517.4" y="844.51" width="11.79" height="63.79" fill="#00ff00"/>
<rect x="529.14" y="843.8" width="11.79" height="1.42" fill="#ff0000"/>
<rect x="529.14" y="845.22" width="11.79" height="63.08" fill="#00ff00"/>
<rect x="540.88" y="843.8" width="11.79" height="1.61" fill="#ff0000"/>
<rect x="540.88" y="845.41" width="11.79" height="62.89" fill="#00ff00"/>
<rect x="552.62" y="843.8" width="11.79" height="1.94" fill="#ff0000"/>
<rect x="552.62" y="845.73" width="11.79" height="62.56" fill="#00ff00"/>
<rect x="564.36" y="843.8" width="11.79" height="2.32" fill="#ff0000"/>
<rect x="564.36" y="846.12" width="11.79" height="62.18" fill="#00ff00"/>
<rect x="576.1" y="843.8" width="11.79" height="4.71" fill="#ff0000"/>
<rect x="576.1" y="848.51" width="11.79" height="59.79" fill="#00ff00"/>
<rect x="587.84" y="843.8" width="11.79" height="8.71" fill="#ff0000"/>
<rect x="587.84" y="852.51" width="11.79" height="55.79" fill="#00ff00"/>
<path d="M106.5 843.8V908.3M118.24 843.8V908.3M129.98 843.8V908.3M141.72 843.8V908.3M153.46 843.8V908.3M165.2 843.8V908.3M176.94 843.8V908.3M188.68 843.8V908.3M200.42 843.8V908.3M212.16 843.8V908.3M223.9 843.8V908.3M235.64 843.8V908.3M247.38 843.8V908.3M259.12 843.8V908.3M270.86 843.8V908.3M282.6 843.8V908.3M294.34 843.8V908.3M306.08 843.8V908.3M317.82 843.8V908.3M329.56 843.8V908.3M341.3 843.8V908.3M353.04 843.8V908.3M364.78 843.8V908.3M376.52 843.8V908.3M388.26 843.8V908.3M400 843.8V908.3M411.74 843.8V908.3M423.48 843.8V908.3M435.22 843.8V908.3M446.96 843.8V908.3M458.7 843.8V908.3M470.44 843.8V908.3M482.18 843.8V908.3M493.92 843.8V908.3M505.66 843.8V908.3M517.4 843.8V908.3M529.14 843.8V908.3M540.88 843.8V908.3M552.62 843.8V908.3M564.36 843.8V908.3M576.1 843.8V908.3M587.84 843.8V908.3M599.58 843.8V908.3M106.5 843.8H599.58" stroke="#1a1a1a" stroke-width="1.15" fill="none"/>
<path d="M105.7 842.3V908.3H702.5" stroke="#333" stroke-width="0.9" fill="none"/>
<text x="99" y="908.3" dy="0.35em" text-anchor="end" class="yl">0.00</text>
<text x="99" y="895.4" dy="0.35em" text-anchor="end" class="yl">0.20</text>
<text x="99" y="882.5" dy="0.35em" text-anchor="end" class="yl">0.40</text>
<text x="99" y="869.6" dy="0.35em" text-anchor="end" class="yl">0.60</text>
<text x="99" y="856.7" dy="0.35em" text-anchor="end" class="yl">0.80</text>
<text x="99" y="843.8" dy="0.35em" text-anchor="end" class="yl">1.00</text>
<path d="M103.4 908.3H105.7M103.4 895.4H105.7M103.4 882.5H105.7M103.4 869.6H105.7M103.4 856.7H105.7M103.4 843.8H105.7M112.37 908.3V910.6M124.11 908.3V910.6M135.85 908.3V910.6M147.59 908.3V910.6M159.33 908.3V910.6M171.07 908.3V910.6M182.81 908.3V910.6M194.55 908.3V910.6M206.29 908.3V910.6M218.03 908.3V910.6M229.77 908.3V910.6M241.51 908.3V910.6M253.25 908.3V910.6M264.99 908.3V910.6M276.73 908.3V910.6M288.47 908.3V910.6M300.21 908.3V910.6M311.95 908.3V910.6M323.69 908.3V910.6M335.43 908.3V910.6M347.17 908.3V910.6M358.91 908.3V910.6M370.65 908.3V910.6M382.39 908.3V910.6M394.13 908.3V910.6M405.87 908.3V910.6M417.61 908.3V910.6M429.35 908.3V910.6M441.09 908.3V910.6M452.83 908.3V910.6M464.57 908.3V910.6M476.31 908.3V910.6M488.05 908.3V910.6M499.79 908.3V910.6M511.53 908.3V910.6M523.27 908.3V910.6M535.01 908.3V910.6M546.75 908.3V910.6M558.49 908.3V910.6M570.23 908.3V910.6M581.97 908.3V910.6M593.71 908.3V910.6" stroke="#333" stroke-width="0.7" fill="none"/>
<text x="115.37" y="917.3" text-anchor="middle" class="xl">25(1)</text>
<text x="127.11" y="922.8" text-anchor="middle" class="xl">32(1)</text>
<text x="138.85" y="917.3" text-anchor="middle" class="xl">44(1)</text>
<text x="150.59" y="922.8" text-anchor="middle" class="xl">45(1)</text>
<text x="162.33" y="917.3" text-anchor="middle" class="xl">48(1)</text>
<text x="174.07" y="922.8" text-anchor="middle" class="xl">49(1)</text>
<text x="185.81" y="917.3" text-anchor="middle" class="xl">9(1)</text>
<text x="197.55" y="922.8" text-anchor="middle" class="xl">18(1)</text>
<text x="209.29" y="917.3" text-anchor="middle" class="xl">29(1)</text>
<text x="221.03" y="922.8" text-anchor="middle" class="xl">120(2)</text>
<text x="232.77" y="917.3" text-anchor="middle" class="xl">142(2)</text>
<text x="244.51" y="922.8" text-anchor="middle" class="xl">13(1)</text>
<text x="256.25" y="917.3" text-anchor="middle" class="xl">21(1)</text>
<text x="267.99" y="922.8" text-anchor="middle" class="xl">31(1)</text>
<text x="279.73" y="917.3" text-anchor="middle" class="xl">36(1)</text>
<text x="291.47" y="922.8" text-anchor="middle" class="xl">66(1)</text>
<text x="303.21" y="917.3" text-anchor="middle" class="xl">69(1)</text>
<text x="314.95" y="922.8" text-anchor="middle" class="xl">11(1)</text>
<text x="326.69" y="917.3" text-anchor="middle" class="xl">35(1)</text>
<text x="338.43" y="922.8" text-anchor="middle" class="xl">46(1)</text>
<text x="350.17" y="917.3" text-anchor="middle" class="xl">71(1)</text>
<text x="361.91" y="922.8" text-anchor="middle" class="xl">121(2)</text>
<text x="373.65" y="917.3" text-anchor="middle" class="xl">17(1)</text>
<text x="385.39" y="922.8" text-anchor="middle" class="xl">100(1)</text>
<text x="397.13" y="917.3" text-anchor="middle" class="xl">10(1)</text>
<text x="408.87" y="922.8" text-anchor="middle" class="xl">27(1)</text>
<text x="420.61" y="917.3" text-anchor="middle" class="xl">33(1)</text>
<text x="432.35" y="922.8" text-anchor="middle" class="xl">107(2)</text>
<text x="444.09" y="917.3" text-anchor="middle" class="xl">47(1)</text>
<text x="455.83" y="922.8" text-anchor="middle" class="xl">15(1)</text>
<text x="467.57" y="917.3" text-anchor="middle" class="xl">106(2)</text>
<text x="479.31" y="922.8" text-anchor="middle" class="xl">67(1)</text>
<text x="491.05" y="917.3" text-anchor="middle" class="xl">68(1)</text>
<text x="502.79" y="922.8" text-anchor="middle" class="xl">41(1)</text>
<text x="514.53" y="917.3" text-anchor="middle" class="xl">37(1)</text>
<text x="526.27" y="922.8" text-anchor="middle" class="xl">141(2)</text>
<text x="538.01" y="917.3" text-anchor="middle" class="xl">70(1)</text>
<text x="549.75" y="922.8" text-anchor="middle" class="xl">28(1)</text>
<text x="561.49" y="917.3" text-anchor="middle" class="xl">64(1)</text>
<text x="573.23" y="922.8" text-anchor="middle" class="xl">22(1)</text>
<text x="584.97" y="917.3" text-anchor="middle" class="xl">72(1)</text>
<text x="596.71" y="922.8" text-anchor="middle" class="xl">101(1)</text>

<text x="14" y="660" class="serif" font-weight="bold" font-size="21.5" fill="#333" textLength="15" lengthAdjust="spacingAndGlyphs">B</text>
<text transform="translate(80.2 813.7) rotate(-90)" class="sans" font-weight="bold" font-size="8.8" fill="#222" textLength="57" lengthAdjust="spacingAndGlyphs">Admixture factor</text>
<text x="380.6" y="938" class="sans" font-weight="bold" font-size="8.2" fill="#222" textLength="54.5" lengthAdjust="spacingAndGlyphs">Sample number</text>
<rect x="624" y="859" width="15.2" height="10.2" fill="#ff0000" stroke="#555" stroke-width="0.5"/>
<rect x="624" y="878.5" width="15.2" height="10.2" fill="#00ff00" stroke="#555" stroke-width="0.5"/>
<text x="641.6" y="867.8" class="sans" font-weight="bold" font-size="7.6" fill="#222" textLength="27.4" lengthAdjust="spacingAndGlyphs">Group 1</text>
<text x="641.6" y="886.8" class="sans" font-weight="bold" font-size="7.6" fill="#222" textLength="27.4" lengthAdjust="spacingAndGlyphs">Group 2</text>

</svg>
</body></html>
